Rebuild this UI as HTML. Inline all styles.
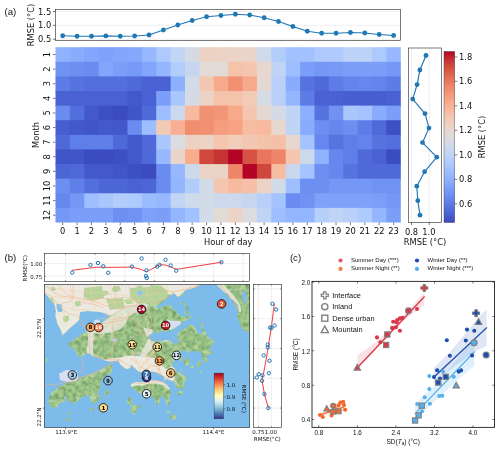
<!DOCTYPE html>
<html lang="en"><head><meta charset="utf-8"><title>Figure</title>
<style>
html,body{margin:0;padding:0;background:#fff;}
body{width:500px;height:451px;overflow:hidden;}
svg{display:block;}
</style></head><body>
<svg width="500" height="451" viewBox="0 0 500 451">
<rect width="500" height="451" fill="#fff"/>
<g id="panelA">
<text x="4.6" y="15.4" font-family="Liberation Sans, sans-serif" font-size="9.6" fill="#111">(a)</text>
<rect x="55.5" y="9.4" width="345.1" height="30.9" fill="#fff" stroke="none"/>
<line x1="55.5" x2="400.6" y1="11.5" y2="11.5" stroke="#dedede" stroke-width="0.5"/>
<line x1="52.9" x2="55.5" y1="11.5" y2="11.5" stroke="#222" stroke-width="0.6"/>
<line x1="55.5" x2="400.6" y1="25.3" y2="25.3" stroke="#dedede" stroke-width="0.5"/>
<line x1="52.9" x2="55.5" y1="25.3" y2="25.3" stroke="#222" stroke-width="0.6"/>
<line x1="55.5" x2="400.6" y1="39.2" y2="39.2" stroke="#dedede" stroke-width="0.5"/>
<line x1="52.9" x2="55.5" y1="39.2" y2="39.2" stroke="#222" stroke-width="0.6"/>
<text x="51.3" y="14.5" font-family="DejaVu Sans, Liberation Sans, sans-serif" font-size="8.3" text-anchor="end" fill="#111">1.5</text>
<text x="51.3" y="28.3" font-family="DejaVu Sans, Liberation Sans, sans-serif" font-size="8.3" text-anchor="end" fill="#111">1.0</text>
<text x="51.3" y="42.2" font-family="DejaVu Sans, Liberation Sans, sans-serif" font-size="8.3" text-anchor="end" fill="#111">0.5</text>
<text transform="translate(34.2,25) rotate(-90)" font-family="DejaVu Sans, Liberation Sans, sans-serif" font-size="8.3" text-anchor="middle" fill="#111">RMSE (°C)</text>
<polyline points="62.69,35.75 77.08,36.25 91.47,36.25 105.86,35.9 120.24,36.25 134.63,36.0 149.02,35.0 163.41,30.0 177.79,25.0 192.18,20.5 206.57,16.75 220.96,15.5 235.34,14.25 249.73,15.0 264.12,17.75 278.51,21.5 292.89,26.5 307.28,31.25 321.67,33.25 336.06,33.25 350.44,32.5 364.83,33.0 379.22,34.5 393.61,35.5" fill="none" stroke="#1f77b4" stroke-width="1.15" stroke-linejoin="round"/>
<circle cx="62.69" cy="35.75" r="2.4" fill="#1f77b4"/>
<circle cx="77.08" cy="36.25" r="2.4" fill="#1f77b4"/>
<circle cx="91.47" cy="36.25" r="2.4" fill="#1f77b4"/>
<circle cx="105.86" cy="35.9" r="2.4" fill="#1f77b4"/>
<circle cx="120.24" cy="36.25" r="2.4" fill="#1f77b4"/>
<circle cx="134.63" cy="36.0" r="2.4" fill="#1f77b4"/>
<circle cx="149.02" cy="35.0" r="2.4" fill="#1f77b4"/>
<circle cx="163.41" cy="30.0" r="2.4" fill="#1f77b4"/>
<circle cx="177.79" cy="25.0" r="2.4" fill="#1f77b4"/>
<circle cx="192.18" cy="20.5" r="2.4" fill="#1f77b4"/>
<circle cx="206.57" cy="16.75" r="2.4" fill="#1f77b4"/>
<circle cx="220.96" cy="15.5" r="2.4" fill="#1f77b4"/>
<circle cx="235.34" cy="14.25" r="2.4" fill="#1f77b4"/>
<circle cx="249.73" cy="15.0" r="2.4" fill="#1f77b4"/>
<circle cx="264.12" cy="17.75" r="2.4" fill="#1f77b4"/>
<circle cx="278.51" cy="21.5" r="2.4" fill="#1f77b4"/>
<circle cx="292.89" cy="26.5" r="2.4" fill="#1f77b4"/>
<circle cx="307.28" cy="31.25" r="2.4" fill="#1f77b4"/>
<circle cx="321.67" cy="33.25" r="2.4" fill="#1f77b4"/>
<circle cx="336.06" cy="33.25" r="2.4" fill="#1f77b4"/>
<circle cx="350.44" cy="32.5" r="2.4" fill="#1f77b4"/>
<circle cx="364.83" cy="33.0" r="2.4" fill="#1f77b4"/>
<circle cx="379.22" cy="34.5" r="2.4" fill="#1f77b4"/>
<circle cx="393.61" cy="35.5" r="2.4" fill="#1f77b4"/>
<rect x="55.5" y="9.4" width="345.1" height="30.9" fill="none" stroke="#222" stroke-width="0.6"/>
<rect x="55.50" y="47.20" width="15.39" height="15.61" fill="#90b2fe"/>
<rect x="69.89" y="47.20" width="15.39" height="15.61" fill="#89acfd"/>
<rect x="84.28" y="47.20" width="15.39" height="15.61" fill="#82a6fb"/>
<rect x="98.66" y="47.20" width="15.39" height="15.61" fill="#7ea1fa"/>
<rect x="113.05" y="47.20" width="15.39" height="15.61" fill="#82a6fb"/>
<rect x="127.44" y="47.20" width="15.39" height="15.61" fill="#85a8fc"/>
<rect x="141.82" y="47.20" width="15.39" height="15.61" fill="#97b8ff"/>
<rect x="156.21" y="47.20" width="15.39" height="15.61" fill="#adc9fd"/>
<rect x="170.60" y="47.20" width="15.39" height="15.61" fill="#c3d5f4"/>
<rect x="184.99" y="47.20" width="15.39" height="15.61" fill="#d5dbe5"/>
<rect x="199.38" y="47.20" width="15.39" height="15.61" fill="#edd2c3"/>
<rect x="213.76" y="47.20" width="15.39" height="15.61" fill="#ebd3c6"/>
<rect x="228.15" y="47.20" width="15.39" height="15.61" fill="#ebd3c6"/>
<rect x="242.54" y="47.20" width="15.39" height="15.61" fill="#e9d5cb"/>
<rect x="256.93" y="47.20" width="15.39" height="15.61" fill="#cfdaea"/>
<rect x="271.31" y="47.20" width="15.39" height="15.61" fill="#b3cdfb"/>
<rect x="285.70" y="47.20" width="15.39" height="15.61" fill="#a2c1ff"/>
<rect x="300.09" y="47.20" width="15.39" height="15.61" fill="#a2c1ff"/>
<rect x="314.48" y="47.20" width="15.39" height="15.61" fill="#adc9fd"/>
<rect x="328.86" y="47.20" width="15.39" height="15.61" fill="#afcafc"/>
<rect x="343.25" y="47.20" width="15.39" height="15.61" fill="#bcd2f7"/>
<rect x="357.64" y="47.20" width="15.39" height="15.61" fill="#bcd2f7"/>
<rect x="372.03" y="47.20" width="15.39" height="15.61" fill="#adc9fd"/>
<rect x="386.41" y="47.20" width="14.39" height="15.61" fill="#97b8ff"/>
<rect x="55.50" y="61.81" width="15.39" height="15.61" fill="#7093f3"/>
<rect x="69.89" y="61.81" width="15.39" height="15.61" fill="#6c8ff1"/>
<rect x="84.28" y="61.81" width="15.39" height="15.61" fill="#6a8bef"/>
<rect x="98.66" y="61.81" width="15.39" height="15.61" fill="#82a6fb"/>
<rect x="113.05" y="61.81" width="15.39" height="15.61" fill="#7b9ff9"/>
<rect x="127.44" y="61.81" width="15.39" height="15.61" fill="#779af7"/>
<rect x="141.82" y="61.81" width="15.39" height="15.61" fill="#82a6fb"/>
<rect x="156.21" y="61.81" width="15.39" height="15.61" fill="#94b6ff"/>
<rect x="170.60" y="61.81" width="15.39" height="15.61" fill="#b3cdfb"/>
<rect x="184.99" y="61.81" width="15.39" height="15.61" fill="#c6d6f1"/>
<rect x="199.38" y="61.81" width="15.39" height="15.61" fill="#e2dad5"/>
<rect x="213.76" y="61.81" width="15.39" height="15.61" fill="#e2dad5"/>
<rect x="228.15" y="61.81" width="15.39" height="15.61" fill="#f5c2aa"/>
<rect x="242.54" y="61.81" width="15.39" height="15.61" fill="#f4c6af"/>
<rect x="256.93" y="61.81" width="15.39" height="15.61" fill="#e7d7ce"/>
<rect x="271.31" y="61.81" width="15.39" height="15.61" fill="#c0d4f5"/>
<rect x="285.70" y="61.81" width="15.39" height="15.61" fill="#9ebeff"/>
<rect x="300.09" y="61.81" width="15.39" height="15.61" fill="#7b9ff9"/>
<rect x="314.48" y="61.81" width="15.39" height="15.61" fill="#7597f6"/>
<rect x="328.86" y="61.81" width="15.39" height="15.61" fill="#779af7"/>
<rect x="343.25" y="61.81" width="15.39" height="15.61" fill="#7b9ff9"/>
<rect x="357.64" y="61.81" width="15.39" height="15.61" fill="#7b9ff9"/>
<rect x="372.03" y="61.81" width="15.39" height="15.61" fill="#7b9ff9"/>
<rect x="386.41" y="61.81" width="14.39" height="15.61" fill="#7597f6"/>
<rect x="55.50" y="76.42" width="15.39" height="15.61" fill="#5d7ce6"/>
<rect x="69.89" y="76.42" width="15.39" height="15.61" fill="#5673e0"/>
<rect x="84.28" y="76.42" width="15.39" height="15.61" fill="#536edd"/>
<rect x="98.66" y="76.42" width="15.39" height="15.61" fill="#536edd"/>
<rect x="113.05" y="76.42" width="15.39" height="15.61" fill="#536edd"/>
<rect x="127.44" y="76.42" width="15.39" height="15.61" fill="#4f69d9"/>
<rect x="141.82" y="76.42" width="15.39" height="15.61" fill="#4961d2"/>
<rect x="156.21" y="76.42" width="15.39" height="15.61" fill="#4961d2"/>
<rect x="170.60" y="76.42" width="15.39" height="15.61" fill="#8db0fe"/>
<rect x="184.99" y="76.42" width="15.39" height="15.61" fill="#d2dbe8"/>
<rect x="199.38" y="76.42" width="15.39" height="15.61" fill="#f3c8b2"/>
<rect x="213.76" y="76.42" width="15.39" height="15.61" fill="#f7a98b"/>
<rect x="228.15" y="76.42" width="15.39" height="15.61" fill="#f29072"/>
<rect x="242.54" y="76.42" width="15.39" height="15.61" fill="#f7a98b"/>
<rect x="256.93" y="76.42" width="15.39" height="15.61" fill="#e4d9d2"/>
<rect x="271.31" y="76.42" width="15.39" height="15.61" fill="#bad0f8"/>
<rect x="285.70" y="76.42" width="15.39" height="15.61" fill="#89acfd"/>
<rect x="300.09" y="76.42" width="15.39" height="15.61" fill="#5673e0"/>
<rect x="314.48" y="76.42" width="15.39" height="15.61" fill="#4f69d9"/>
<rect x="328.86" y="76.42" width="15.39" height="15.61" fill="#5d7ce6"/>
<rect x="343.25" y="76.42" width="15.39" height="15.61" fill="#6384eb"/>
<rect x="357.64" y="76.42" width="15.39" height="15.61" fill="#6687ed"/>
<rect x="372.03" y="76.42" width="15.39" height="15.61" fill="#6384eb"/>
<rect x="386.41" y="76.42" width="14.39" height="15.61" fill="#5d7ce6"/>
<rect x="55.50" y="91.03" width="15.39" height="15.61" fill="#4961d2"/>
<rect x="69.89" y="91.03" width="15.39" height="15.61" fill="#4961d2"/>
<rect x="84.28" y="91.03" width="15.39" height="15.61" fill="#4961d2"/>
<rect x="98.66" y="91.03" width="15.39" height="15.61" fill="#4961d2"/>
<rect x="113.05" y="91.03" width="15.39" height="15.61" fill="#4961d2"/>
<rect x="127.44" y="91.03" width="15.39" height="15.61" fill="#4358cb"/>
<rect x="141.82" y="91.03" width="15.39" height="15.61" fill="#4961d2"/>
<rect x="156.21" y="91.03" width="15.39" height="15.61" fill="#7b9ff9"/>
<rect x="170.60" y="91.03" width="15.39" height="15.61" fill="#a9c6fd"/>
<rect x="184.99" y="91.03" width="15.39" height="15.61" fill="#d5dbe5"/>
<rect x="199.38" y="91.03" width="15.39" height="15.61" fill="#ebd3c6"/>
<rect x="213.76" y="91.03" width="15.39" height="15.61" fill="#f5c2aa"/>
<rect x="228.15" y="91.03" width="15.39" height="15.61" fill="#f5c2aa"/>
<rect x="242.54" y="91.03" width="15.39" height="15.61" fill="#f2cbb7"/>
<rect x="256.93" y="91.03" width="15.39" height="15.61" fill="#d5dbe5"/>
<rect x="271.31" y="91.03" width="15.39" height="15.61" fill="#bad0f8"/>
<rect x="285.70" y="91.03" width="15.39" height="15.61" fill="#94b6ff"/>
<rect x="300.09" y="91.03" width="15.39" height="15.61" fill="#5d7ce6"/>
<rect x="314.48" y="91.03" width="15.39" height="15.61" fill="#4961d2"/>
<rect x="328.86" y="91.03" width="15.39" height="15.61" fill="#4961d2"/>
<rect x="343.25" y="91.03" width="15.39" height="15.61" fill="#465ecf"/>
<rect x="357.64" y="91.03" width="15.39" height="15.61" fill="#465ecf"/>
<rect x="372.03" y="91.03" width="15.39" height="15.61" fill="#465ecf"/>
<rect x="386.41" y="91.03" width="14.39" height="15.61" fill="#4961d2"/>
<rect x="55.50" y="105.63" width="15.39" height="15.61" fill="#6a8bef"/>
<rect x="69.89" y="105.63" width="15.39" height="15.61" fill="#536edd"/>
<rect x="84.28" y="105.63" width="15.39" height="15.61" fill="#4358cb"/>
<rect x="98.66" y="105.63" width="15.39" height="15.61" fill="#3d50c3"/>
<rect x="113.05" y="105.63" width="15.39" height="15.61" fill="#3b4cc0"/>
<rect x="127.44" y="105.63" width="15.39" height="15.61" fill="#4055c8"/>
<rect x="141.82" y="105.63" width="15.39" height="15.61" fill="#4f69d9"/>
<rect x="156.21" y="105.63" width="15.39" height="15.61" fill="#9ebeff"/>
<rect x="170.60" y="105.63" width="15.39" height="15.61" fill="#ccd9ed"/>
<rect x="184.99" y="105.63" width="15.39" height="15.61" fill="#f7ba9f"/>
<rect x="199.38" y="105.63" width="15.39" height="15.61" fill="#f29072"/>
<rect x="213.76" y="105.63" width="15.39" height="15.61" fill="#f39577"/>
<rect x="228.15" y="105.63" width="15.39" height="15.61" fill="#f7a98b"/>
<rect x="242.54" y="105.63" width="15.39" height="15.61" fill="#f4c6af"/>
<rect x="256.93" y="105.63" width="15.39" height="15.61" fill="#e4d9d2"/>
<rect x="271.31" y="105.63" width="15.39" height="15.61" fill="#d5dbe5"/>
<rect x="285.70" y="105.63" width="15.39" height="15.61" fill="#c0d4f5"/>
<rect x="300.09" y="105.63" width="15.39" height="15.61" fill="#8db0fe"/>
<rect x="314.48" y="105.63" width="15.39" height="15.61" fill="#5673e0"/>
<rect x="328.86" y="105.63" width="15.39" height="15.61" fill="#7093f3"/>
<rect x="343.25" y="105.63" width="15.39" height="15.61" fill="#a9c6fd"/>
<rect x="357.64" y="105.63" width="15.39" height="15.61" fill="#a5c3fe"/>
<rect x="372.03" y="105.63" width="15.39" height="15.61" fill="#89acfd"/>
<rect x="386.41" y="105.63" width="14.39" height="15.61" fill="#7b9ff9"/>
<rect x="55.50" y="120.24" width="15.39" height="15.61" fill="#465ecf"/>
<rect x="69.89" y="120.24" width="15.39" height="15.61" fill="#4358cb"/>
<rect x="84.28" y="120.24" width="15.39" height="15.61" fill="#4055c8"/>
<rect x="98.66" y="120.24" width="15.39" height="15.61" fill="#4358cb"/>
<rect x="113.05" y="120.24" width="15.39" height="15.61" fill="#4358cb"/>
<rect x="127.44" y="120.24" width="15.39" height="15.61" fill="#6a8bef"/>
<rect x="141.82" y="120.24" width="15.39" height="15.61" fill="#9ebeff"/>
<rect x="156.21" y="120.24" width="15.39" height="15.61" fill="#f2cbb7"/>
<rect x="170.60" y="120.24" width="15.39" height="15.61" fill="#f7b093"/>
<rect x="184.99" y="120.24" width="15.39" height="15.61" fill="#f18d6f"/>
<rect x="199.38" y="120.24" width="15.39" height="15.61" fill="#f29072"/>
<rect x="213.76" y="120.24" width="15.39" height="15.61" fill="#f59d7e"/>
<rect x="228.15" y="120.24" width="15.39" height="15.61" fill="#f6a283"/>
<rect x="242.54" y="120.24" width="15.39" height="15.61" fill="#f6bda2"/>
<rect x="256.93" y="120.24" width="15.39" height="15.61" fill="#f7ba9f"/>
<rect x="271.31" y="120.24" width="15.39" height="15.61" fill="#e7d7ce"/>
<rect x="285.70" y="120.24" width="15.39" height="15.61" fill="#c0d4f5"/>
<rect x="300.09" y="120.24" width="15.39" height="15.61" fill="#89acfd"/>
<rect x="314.48" y="120.24" width="15.39" height="15.61" fill="#6c8ff1"/>
<rect x="328.86" y="120.24" width="15.39" height="15.61" fill="#6687ed"/>
<rect x="343.25" y="120.24" width="15.39" height="15.61" fill="#6c8ff1"/>
<rect x="357.64" y="120.24" width="15.39" height="15.61" fill="#5d7ce6"/>
<rect x="372.03" y="120.24" width="15.39" height="15.61" fill="#4f69d9"/>
<rect x="386.41" y="120.24" width="14.39" height="15.61" fill="#3d50c3"/>
<rect x="55.50" y="134.85" width="15.39" height="15.61" fill="#4f69d9"/>
<rect x="69.89" y="134.85" width="15.39" height="15.61" fill="#5f7fe8"/>
<rect x="84.28" y="134.85" width="15.39" height="15.61" fill="#5f7fe8"/>
<rect x="98.66" y="134.85" width="15.39" height="15.61" fill="#5f7fe8"/>
<rect x="113.05" y="134.85" width="15.39" height="15.61" fill="#4f69d9"/>
<rect x="127.44" y="134.85" width="15.39" height="15.61" fill="#4358cb"/>
<rect x="141.82" y="134.85" width="15.39" height="15.61" fill="#4f69d9"/>
<rect x="156.21" y="134.85" width="15.39" height="15.61" fill="#a9c6fd"/>
<rect x="170.60" y="134.85" width="15.39" height="15.61" fill="#dadce0"/>
<rect x="184.99" y="134.85" width="15.39" height="15.61" fill="#edd2c3"/>
<rect x="199.38" y="134.85" width="15.39" height="15.61" fill="#ebd3c6"/>
<rect x="213.76" y="134.85" width="15.39" height="15.61" fill="#f4c6af"/>
<rect x="228.15" y="134.85" width="15.39" height="15.61" fill="#f1cdba"/>
<rect x="242.54" y="134.85" width="15.39" height="15.61" fill="#f3c8b2"/>
<rect x="256.93" y="134.85" width="15.39" height="15.61" fill="#f5c2aa"/>
<rect x="271.31" y="134.85" width="15.39" height="15.61" fill="#f5c0a7"/>
<rect x="285.70" y="134.85" width="15.39" height="15.61" fill="#e7d7ce"/>
<rect x="300.09" y="134.85" width="15.39" height="15.61" fill="#a5c3fe"/>
<rect x="314.48" y="134.85" width="15.39" height="15.61" fill="#6687ed"/>
<rect x="328.86" y="134.85" width="15.39" height="15.61" fill="#5673e0"/>
<rect x="343.25" y="134.85" width="15.39" height="15.61" fill="#5f7fe8"/>
<rect x="357.64" y="134.85" width="15.39" height="15.61" fill="#6384eb"/>
<rect x="372.03" y="134.85" width="15.39" height="15.61" fill="#5673e0"/>
<rect x="386.41" y="134.85" width="14.39" height="15.61" fill="#536edd"/>
<rect x="55.50" y="149.46" width="15.39" height="15.61" fill="#4055c8"/>
<rect x="69.89" y="149.46" width="15.39" height="15.61" fill="#4055c8"/>
<rect x="84.28" y="149.46" width="15.39" height="15.61" fill="#3b4cc0"/>
<rect x="98.66" y="149.46" width="15.39" height="15.61" fill="#3b4cc0"/>
<rect x="113.05" y="149.46" width="15.39" height="15.61" fill="#3d50c3"/>
<rect x="127.44" y="149.46" width="15.39" height="15.61" fill="#4358cb"/>
<rect x="141.82" y="149.46" width="15.39" height="15.61" fill="#4f69d9"/>
<rect x="156.21" y="149.46" width="15.39" height="15.61" fill="#97b8ff"/>
<rect x="170.60" y="149.46" width="15.39" height="15.61" fill="#e9d5cb"/>
<rect x="184.99" y="149.46" width="15.39" height="15.61" fill="#f7ac8e"/>
<rect x="199.38" y="149.46" width="15.39" height="15.61" fill="#d0473d"/>
<rect x="213.76" y="149.46" width="15.39" height="15.61" fill="#c53334"/>
<rect x="228.15" y="149.46" width="15.39" height="15.61" fill="#b40426"/>
<rect x="242.54" y="149.46" width="15.39" height="15.61" fill="#d65244"/>
<rect x="256.93" y="149.46" width="15.39" height="15.61" fill="#e8765c"/>
<rect x="271.31" y="149.46" width="15.39" height="15.61" fill="#ee8468"/>
<rect x="285.70" y="149.46" width="15.39" height="15.61" fill="#f4c6af"/>
<rect x="300.09" y="149.46" width="15.39" height="15.61" fill="#ccd9ed"/>
<rect x="314.48" y="149.46" width="15.39" height="15.61" fill="#90b2fe"/>
<rect x="328.86" y="149.46" width="15.39" height="15.61" fill="#6687ed"/>
<rect x="343.25" y="149.46" width="15.39" height="15.61" fill="#5f7fe8"/>
<rect x="357.64" y="149.46" width="15.39" height="15.61" fill="#4f69d9"/>
<rect x="372.03" y="149.46" width="15.39" height="15.61" fill="#4961d2"/>
<rect x="386.41" y="149.46" width="14.39" height="15.61" fill="#3b4cc0"/>
<rect x="55.50" y="164.07" width="15.39" height="15.61" fill="#4c66d6"/>
<rect x="69.89" y="164.07" width="15.39" height="15.61" fill="#4f69d9"/>
<rect x="84.28" y="164.07" width="15.39" height="15.61" fill="#4358cb"/>
<rect x="98.66" y="164.07" width="15.39" height="15.61" fill="#4358cb"/>
<rect x="113.05" y="164.07" width="15.39" height="15.61" fill="#4055c8"/>
<rect x="127.44" y="164.07" width="15.39" height="15.61" fill="#3d50c3"/>
<rect x="141.82" y="164.07" width="15.39" height="15.61" fill="#3b4cc0"/>
<rect x="156.21" y="164.07" width="15.39" height="15.61" fill="#6a8bef"/>
<rect x="170.60" y="164.07" width="15.39" height="15.61" fill="#97b8ff"/>
<rect x="184.99" y="164.07" width="15.39" height="15.61" fill="#ccd9ed"/>
<rect x="199.38" y="164.07" width="15.39" height="15.61" fill="#ebd3c6"/>
<rect x="213.76" y="164.07" width="15.39" height="15.61" fill="#ebd3c6"/>
<rect x="228.15" y="164.07" width="15.39" height="15.61" fill="#ee8468"/>
<rect x="242.54" y="164.07" width="15.39" height="15.61" fill="#b40426"/>
<rect x="256.93" y="164.07" width="15.39" height="15.61" fill="#d0473d"/>
<rect x="271.31" y="164.07" width="15.39" height="15.61" fill="#f6bda2"/>
<rect x="285.70" y="164.07" width="15.39" height="15.61" fill="#cad8ef"/>
<rect x="300.09" y="164.07" width="15.39" height="15.61" fill="#a5c3fe"/>
<rect x="314.48" y="164.07" width="15.39" height="15.61" fill="#6c8ff1"/>
<rect x="328.86" y="164.07" width="15.39" height="15.61" fill="#6687ed"/>
<rect x="343.25" y="164.07" width="15.39" height="15.61" fill="#5673e0"/>
<rect x="357.64" y="164.07" width="15.39" height="15.61" fill="#4f69d9"/>
<rect x="372.03" y="164.07" width="15.39" height="15.61" fill="#4f69d9"/>
<rect x="386.41" y="164.07" width="14.39" height="15.61" fill="#4f69d9"/>
<rect x="55.50" y="178.68" width="15.39" height="15.61" fill="#6c8ff1"/>
<rect x="69.89" y="178.68" width="15.39" height="15.61" fill="#5f7fe8"/>
<rect x="84.28" y="178.68" width="15.39" height="15.61" fill="#536edd"/>
<rect x="98.66" y="178.68" width="15.39" height="15.61" fill="#4c66d6"/>
<rect x="113.05" y="178.68" width="15.39" height="15.61" fill="#4c66d6"/>
<rect x="127.44" y="178.68" width="15.39" height="15.61" fill="#4961d2"/>
<rect x="141.82" y="178.68" width="15.39" height="15.61" fill="#4c66d6"/>
<rect x="156.21" y="178.68" width="15.39" height="15.61" fill="#6a8bef"/>
<rect x="170.60" y="178.68" width="15.39" height="15.61" fill="#94b6ff"/>
<rect x="184.99" y="178.68" width="15.39" height="15.61" fill="#b3cdfb"/>
<rect x="199.38" y="178.68" width="15.39" height="15.61" fill="#d2dbe8"/>
<rect x="213.76" y="178.68" width="15.39" height="15.61" fill="#f4c6af"/>
<rect x="228.15" y="178.68" width="15.39" height="15.61" fill="#f7ba9f"/>
<rect x="242.54" y="178.68" width="15.39" height="15.61" fill="#f5c0a7"/>
<rect x="256.93" y="178.68" width="15.39" height="15.61" fill="#ebd3c6"/>
<rect x="271.31" y="178.68" width="15.39" height="15.61" fill="#d2dbe8"/>
<rect x="285.70" y="178.68" width="15.39" height="15.61" fill="#9ebeff"/>
<rect x="300.09" y="178.68" width="15.39" height="15.61" fill="#6c8ff1"/>
<rect x="314.48" y="178.68" width="15.39" height="15.61" fill="#6c8ff1"/>
<rect x="328.86" y="178.68" width="15.39" height="15.61" fill="#7597f6"/>
<rect x="343.25" y="178.68" width="15.39" height="15.61" fill="#7597f6"/>
<rect x="357.64" y="178.68" width="15.39" height="15.61" fill="#7597f6"/>
<rect x="372.03" y="178.68" width="15.39" height="15.61" fill="#7093f3"/>
<rect x="386.41" y="178.68" width="14.39" height="15.61" fill="#7093f3"/>
<rect x="55.50" y="193.28" width="15.39" height="15.61" fill="#6687ed"/>
<rect x="69.89" y="193.28" width="15.39" height="15.61" fill="#7597f6"/>
<rect x="84.28" y="193.28" width="15.39" height="15.61" fill="#9ebeff"/>
<rect x="98.66" y="193.28" width="15.39" height="15.61" fill="#a9c6fd"/>
<rect x="113.05" y="193.28" width="15.39" height="15.61" fill="#b3cdfb"/>
<rect x="127.44" y="193.28" width="15.39" height="15.61" fill="#afcafc"/>
<rect x="141.82" y="193.28" width="15.39" height="15.61" fill="#9bbcff"/>
<rect x="156.21" y="193.28" width="15.39" height="15.61" fill="#97b8ff"/>
<rect x="170.60" y="193.28" width="15.39" height="15.61" fill="#c3d5f4"/>
<rect x="184.99" y="193.28" width="15.39" height="15.61" fill="#cfdaea"/>
<rect x="199.38" y="193.28" width="15.39" height="15.61" fill="#d2dbe8"/>
<rect x="213.76" y="193.28" width="15.39" height="15.61" fill="#ccd9ed"/>
<rect x="228.15" y="193.28" width="15.39" height="15.61" fill="#ccd9ed"/>
<rect x="242.54" y="193.28" width="15.39" height="15.61" fill="#c6d6f1"/>
<rect x="256.93" y="193.28" width="15.39" height="15.61" fill="#bad0f8"/>
<rect x="271.31" y="193.28" width="15.39" height="15.61" fill="#a5c3fe"/>
<rect x="285.70" y="193.28" width="15.39" height="15.61" fill="#6a8bef"/>
<rect x="300.09" y="193.28" width="15.39" height="15.61" fill="#7093f3"/>
<rect x="314.48" y="193.28" width="15.39" height="15.61" fill="#7ea1fa"/>
<rect x="328.86" y="193.28" width="15.39" height="15.61" fill="#7ea1fa"/>
<rect x="343.25" y="193.28" width="15.39" height="15.61" fill="#7ea1fa"/>
<rect x="357.64" y="193.28" width="15.39" height="15.61" fill="#7ea1fa"/>
<rect x="372.03" y="193.28" width="15.39" height="15.61" fill="#7b9ff9"/>
<rect x="386.41" y="193.28" width="14.39" height="15.61" fill="#7597f6"/>
<rect x="55.50" y="207.89" width="15.39" height="14.61" fill="#7597f6"/>
<rect x="69.89" y="207.89" width="15.39" height="14.61" fill="#7b9ff9"/>
<rect x="84.28" y="207.89" width="15.39" height="14.61" fill="#7b9ff9"/>
<rect x="98.66" y="207.89" width="15.39" height="14.61" fill="#7b9ff9"/>
<rect x="113.05" y="207.89" width="15.39" height="14.61" fill="#6c8ff1"/>
<rect x="127.44" y="207.89" width="15.39" height="14.61" fill="#7093f3"/>
<rect x="141.82" y="207.89" width="15.39" height="14.61" fill="#7ea1fa"/>
<rect x="156.21" y="207.89" width="15.39" height="14.61" fill="#7b9ff9"/>
<rect x="170.60" y="207.89" width="15.39" height="14.61" fill="#94b6ff"/>
<rect x="184.99" y="207.89" width="15.39" height="14.61" fill="#a2c1ff"/>
<rect x="199.38" y="207.89" width="15.39" height="14.61" fill="#d2dbe8"/>
<rect x="213.76" y="207.89" width="15.39" height="14.61" fill="#e2dad5"/>
<rect x="228.15" y="207.89" width="15.39" height="14.61" fill="#ebd3c6"/>
<rect x="242.54" y="207.89" width="15.39" height="14.61" fill="#dadce0"/>
<rect x="256.93" y="207.89" width="15.39" height="14.61" fill="#c0d4f5"/>
<rect x="271.31" y="207.89" width="15.39" height="14.61" fill="#9ebeff"/>
<rect x="285.70" y="207.89" width="15.39" height="14.61" fill="#94b6ff"/>
<rect x="300.09" y="207.89" width="15.39" height="14.61" fill="#94b6ff"/>
<rect x="314.48" y="207.89" width="15.39" height="14.61" fill="#b6cefa"/>
<rect x="328.86" y="207.89" width="15.39" height="14.61" fill="#c0d4f5"/>
<rect x="343.25" y="207.89" width="15.39" height="14.61" fill="#bad0f8"/>
<rect x="357.64" y="207.89" width="15.39" height="14.61" fill="#afcafc"/>
<rect x="372.03" y="207.89" width="15.39" height="14.61" fill="#94b6ff"/>
<rect x="386.41" y="207.89" width="14.39" height="14.61" fill="#7b9ff9"/>
<line x1="62.69" x2="62.69" y1="222.5" y2="225.1" stroke="#222" stroke-width="0.6"/>
<text x="62.69" y="234.4" font-family="DejaVu Sans, Liberation Sans, sans-serif" font-size="8.3" text-anchor="middle" fill="#111">0</text>
<line x1="77.08" x2="77.08" y1="222.5" y2="225.1" stroke="#222" stroke-width="0.6"/>
<text x="77.08" y="234.4" font-family="DejaVu Sans, Liberation Sans, sans-serif" font-size="8.3" text-anchor="middle" fill="#111">1</text>
<line x1="91.47" x2="91.47" y1="222.5" y2="225.1" stroke="#222" stroke-width="0.6"/>
<text x="91.47" y="234.4" font-family="DejaVu Sans, Liberation Sans, sans-serif" font-size="8.3" text-anchor="middle" fill="#111">2</text>
<line x1="105.86" x2="105.86" y1="222.5" y2="225.1" stroke="#222" stroke-width="0.6"/>
<text x="105.86" y="234.4" font-family="DejaVu Sans, Liberation Sans, sans-serif" font-size="8.3" text-anchor="middle" fill="#111">3</text>
<line x1="120.24" x2="120.24" y1="222.5" y2="225.1" stroke="#222" stroke-width="0.6"/>
<text x="120.24" y="234.4" font-family="DejaVu Sans, Liberation Sans, sans-serif" font-size="8.3" text-anchor="middle" fill="#111">4</text>
<line x1="134.63" x2="134.63" y1="222.5" y2="225.1" stroke="#222" stroke-width="0.6"/>
<text x="134.63" y="234.4" font-family="DejaVu Sans, Liberation Sans, sans-serif" font-size="8.3" text-anchor="middle" fill="#111">5</text>
<line x1="149.02" x2="149.02" y1="222.5" y2="225.1" stroke="#222" stroke-width="0.6"/>
<text x="149.02" y="234.4" font-family="DejaVu Sans, Liberation Sans, sans-serif" font-size="8.3" text-anchor="middle" fill="#111">6</text>
<line x1="163.41" x2="163.41" y1="222.5" y2="225.1" stroke="#222" stroke-width="0.6"/>
<text x="163.41" y="234.4" font-family="DejaVu Sans, Liberation Sans, sans-serif" font-size="8.3" text-anchor="middle" fill="#111">7</text>
<line x1="177.79" x2="177.79" y1="222.5" y2="225.1" stroke="#222" stroke-width="0.6"/>
<text x="177.79" y="234.4" font-family="DejaVu Sans, Liberation Sans, sans-serif" font-size="8.3" text-anchor="middle" fill="#111">8</text>
<line x1="192.18" x2="192.18" y1="222.5" y2="225.1" stroke="#222" stroke-width="0.6"/>
<text x="192.18" y="234.4" font-family="DejaVu Sans, Liberation Sans, sans-serif" font-size="8.3" text-anchor="middle" fill="#111">9</text>
<line x1="206.57" x2="206.57" y1="222.5" y2="225.1" stroke="#222" stroke-width="0.6"/>
<text x="206.57" y="234.4" font-family="DejaVu Sans, Liberation Sans, sans-serif" font-size="8.3" text-anchor="middle" fill="#111">10</text>
<line x1="220.96" x2="220.96" y1="222.5" y2="225.1" stroke="#222" stroke-width="0.6"/>
<text x="220.96" y="234.4" font-family="DejaVu Sans, Liberation Sans, sans-serif" font-size="8.3" text-anchor="middle" fill="#111">11</text>
<line x1="235.34" x2="235.34" y1="222.5" y2="225.1" stroke="#222" stroke-width="0.6"/>
<text x="235.34" y="234.4" font-family="DejaVu Sans, Liberation Sans, sans-serif" font-size="8.3" text-anchor="middle" fill="#111">12</text>
<line x1="249.73" x2="249.73" y1="222.5" y2="225.1" stroke="#222" stroke-width="0.6"/>
<text x="249.73" y="234.4" font-family="DejaVu Sans, Liberation Sans, sans-serif" font-size="8.3" text-anchor="middle" fill="#111">13</text>
<line x1="264.12" x2="264.12" y1="222.5" y2="225.1" stroke="#222" stroke-width="0.6"/>
<text x="264.12" y="234.4" font-family="DejaVu Sans, Liberation Sans, sans-serif" font-size="8.3" text-anchor="middle" fill="#111">14</text>
<line x1="278.51" x2="278.51" y1="222.5" y2="225.1" stroke="#222" stroke-width="0.6"/>
<text x="278.51" y="234.4" font-family="DejaVu Sans, Liberation Sans, sans-serif" font-size="8.3" text-anchor="middle" fill="#111">15</text>
<line x1="292.89" x2="292.89" y1="222.5" y2="225.1" stroke="#222" stroke-width="0.6"/>
<text x="292.89" y="234.4" font-family="DejaVu Sans, Liberation Sans, sans-serif" font-size="8.3" text-anchor="middle" fill="#111">16</text>
<line x1="307.28" x2="307.28" y1="222.5" y2="225.1" stroke="#222" stroke-width="0.6"/>
<text x="307.28" y="234.4" font-family="DejaVu Sans, Liberation Sans, sans-serif" font-size="8.3" text-anchor="middle" fill="#111">17</text>
<line x1="321.67" x2="321.67" y1="222.5" y2="225.1" stroke="#222" stroke-width="0.6"/>
<text x="321.67" y="234.4" font-family="DejaVu Sans, Liberation Sans, sans-serif" font-size="8.3" text-anchor="middle" fill="#111">18</text>
<line x1="336.06" x2="336.06" y1="222.5" y2="225.1" stroke="#222" stroke-width="0.6"/>
<text x="336.06" y="234.4" font-family="DejaVu Sans, Liberation Sans, sans-serif" font-size="8.3" text-anchor="middle" fill="#111">19</text>
<line x1="350.44" x2="350.44" y1="222.5" y2="225.1" stroke="#222" stroke-width="0.6"/>
<text x="350.44" y="234.4" font-family="DejaVu Sans, Liberation Sans, sans-serif" font-size="8.3" text-anchor="middle" fill="#111">20</text>
<line x1="364.83" x2="364.83" y1="222.5" y2="225.1" stroke="#222" stroke-width="0.6"/>
<text x="364.83" y="234.4" font-family="DejaVu Sans, Liberation Sans, sans-serif" font-size="8.3" text-anchor="middle" fill="#111">21</text>
<line x1="379.22" x2="379.22" y1="222.5" y2="225.1" stroke="#222" stroke-width="0.6"/>
<text x="379.22" y="234.4" font-family="DejaVu Sans, Liberation Sans, sans-serif" font-size="8.3" text-anchor="middle" fill="#111">22</text>
<line x1="393.61" x2="393.61" y1="222.5" y2="225.1" stroke="#222" stroke-width="0.6"/>
<text x="393.61" y="234.4" font-family="DejaVu Sans, Liberation Sans, sans-serif" font-size="8.3" text-anchor="middle" fill="#111">23</text>
<line x1="52.9" x2="55.5" y1="54.50" y2="54.50" stroke="#222" stroke-width="0.6"/>
<text transform="translate(49.6,54.50) rotate(-90)" font-family="DejaVu Sans, Liberation Sans, sans-serif" font-size="8.3" text-anchor="middle" fill="#111">1</text>
<line x1="52.9" x2="55.5" y1="69.11" y2="69.11" stroke="#222" stroke-width="0.6"/>
<text transform="translate(49.6,69.11) rotate(-90)" font-family="DejaVu Sans, Liberation Sans, sans-serif" font-size="8.3" text-anchor="middle" fill="#111">2</text>
<line x1="52.9" x2="55.5" y1="83.72" y2="83.72" stroke="#222" stroke-width="0.6"/>
<text transform="translate(49.6,83.72) rotate(-90)" font-family="DejaVu Sans, Liberation Sans, sans-serif" font-size="8.3" text-anchor="middle" fill="#111">3</text>
<line x1="52.9" x2="55.5" y1="98.33" y2="98.33" stroke="#222" stroke-width="0.6"/>
<text transform="translate(49.6,98.33) rotate(-90)" font-family="DejaVu Sans, Liberation Sans, sans-serif" font-size="8.3" text-anchor="middle" fill="#111">4</text>
<line x1="52.9" x2="55.5" y1="112.94" y2="112.94" stroke="#222" stroke-width="0.6"/>
<text transform="translate(49.6,112.94) rotate(-90)" font-family="DejaVu Sans, Liberation Sans, sans-serif" font-size="8.3" text-anchor="middle" fill="#111">5</text>
<line x1="52.9" x2="55.5" y1="127.55" y2="127.55" stroke="#222" stroke-width="0.6"/>
<text transform="translate(49.6,127.55) rotate(-90)" font-family="DejaVu Sans, Liberation Sans, sans-serif" font-size="8.3" text-anchor="middle" fill="#111">6</text>
<line x1="52.9" x2="55.5" y1="142.15" y2="142.15" stroke="#222" stroke-width="0.6"/>
<text transform="translate(49.6,142.15) rotate(-90)" font-family="DejaVu Sans, Liberation Sans, sans-serif" font-size="8.3" text-anchor="middle" fill="#111">7</text>
<line x1="52.9" x2="55.5" y1="156.76" y2="156.76" stroke="#222" stroke-width="0.6"/>
<text transform="translate(49.6,156.76) rotate(-90)" font-family="DejaVu Sans, Liberation Sans, sans-serif" font-size="8.3" text-anchor="middle" fill="#111">8</text>
<line x1="52.9" x2="55.5" y1="171.37" y2="171.37" stroke="#222" stroke-width="0.6"/>
<text transform="translate(49.6,171.37) rotate(-90)" font-family="DejaVu Sans, Liberation Sans, sans-serif" font-size="8.3" text-anchor="middle" fill="#111">9</text>
<line x1="52.9" x2="55.5" y1="185.98" y2="185.98" stroke="#222" stroke-width="0.6"/>
<text transform="translate(49.6,185.98) rotate(-90)" font-family="DejaVu Sans, Liberation Sans, sans-serif" font-size="8.3" text-anchor="middle" fill="#111">10</text>
<line x1="52.9" x2="55.5" y1="200.59" y2="200.59" stroke="#222" stroke-width="0.6"/>
<text transform="translate(49.6,200.59) rotate(-90)" font-family="DejaVu Sans, Liberation Sans, sans-serif" font-size="8.3" text-anchor="middle" fill="#111">11</text>
<line x1="52.9" x2="55.5" y1="215.20" y2="215.20" stroke="#222" stroke-width="0.6"/>
<text transform="translate(49.6,215.20) rotate(-90)" font-family="DejaVu Sans, Liberation Sans, sans-serif" font-size="8.3" text-anchor="middle" fill="#111">12</text>
<text transform="translate(39.4,135) rotate(-90)" font-family="DejaVu Sans, Liberation Sans, sans-serif" font-size="8.3" text-anchor="middle" fill="#111">Month</text>
<text x="228.2" y="244.5" font-family="DejaVu Sans, Liberation Sans, sans-serif" font-size="8.3" text-anchor="middle" fill="#111">Hour of day</text>
<rect x="408.3" y="48.0" width="33.39999999999998" height="174.3" fill="#fff"/>
<line x1="411.5" x2="411.5" y1="48.0" y2="222.3" stroke="#dcdcdc" stroke-width="0.5"/>
<line x1="411.5" x2="411.5" y1="222.3" y2="224.9" stroke="#222" stroke-width="0.6"/>
<line x1="429.25" x2="429.25" y1="48.0" y2="222.3" stroke="#dcdcdc" stroke-width="0.5"/>
<line x1="429.25" x2="429.25" y1="222.3" y2="224.9" stroke="#222" stroke-width="0.6"/>
<polyline points="426,55.50 419.9,70.02 417.1,84.54 412.7,99.06 425,113.58 429,128.10 422.5,142.62 436.8,157.14 424.6,171.66 416.8,186.18 417.8,200.70 420,215.22" fill="none" stroke="#1f77b4" stroke-width="1.15" stroke-linejoin="round"/>
<circle cx="426" cy="55.50" r="2.4" fill="#1f77b4"/>
<circle cx="419.9" cy="70.02" r="2.4" fill="#1f77b4"/>
<circle cx="417.1" cy="84.54" r="2.4" fill="#1f77b4"/>
<circle cx="412.7" cy="99.06" r="2.4" fill="#1f77b4"/>
<circle cx="425" cy="113.58" r="2.4" fill="#1f77b4"/>
<circle cx="429" cy="128.10" r="2.4" fill="#1f77b4"/>
<circle cx="422.5" cy="142.62" r="2.4" fill="#1f77b4"/>
<circle cx="436.8" cy="157.14" r="2.4" fill="#1f77b4"/>
<circle cx="424.6" cy="171.66" r="2.4" fill="#1f77b4"/>
<circle cx="416.8" cy="186.18" r="2.4" fill="#1f77b4"/>
<circle cx="417.8" cy="200.70" r="2.4" fill="#1f77b4"/>
<circle cx="420" cy="215.22" r="2.4" fill="#1f77b4"/>
<rect x="408.3" y="48.0" width="33.39999999999998" height="174.3" fill="none" stroke="#222" stroke-width="0.6"/>
<text x="411.5" y="234.7" font-family="DejaVu Sans, Liberation Sans, sans-serif" font-size="8.3" text-anchor="middle" fill="#111">0.8</text>
<text x="428.9" y="234.7" font-family="DejaVu Sans, Liberation Sans, sans-serif" font-size="8.3" text-anchor="middle" fill="#111">1.0</text>
<text x="425" y="244.5" font-family="DejaVu Sans, Liberation Sans, sans-serif" font-size="8.3" text-anchor="middle" fill="#111">RMSE (°C)</text>
<defs><linearGradient id="gcw" x1="0" y1="0" x2="0" y2="1"><stop offset="0.00" stop-color="#b40426"/><stop offset="0.05" stop-color="#c53334"/><stop offset="0.10" stop-color="#d65244"/><stop offset="0.15" stop-color="#e36c55"/><stop offset="0.20" stop-color="#ee8468"/><stop offset="0.25" stop-color="#f4987a"/><stop offset="0.30" stop-color="#f7ac8e"/><stop offset="0.35" stop-color="#f6bda2"/><stop offset="0.40" stop-color="#f2cbb7"/><stop offset="0.45" stop-color="#e9d5cb"/><stop offset="0.50" stop-color="#dddcdc"/><stop offset="0.55" stop-color="#cfdaea"/><stop offset="0.60" stop-color="#c0d4f5"/><stop offset="0.65" stop-color="#afcafc"/><stop offset="0.70" stop-color="#9ebeff"/><stop offset="0.75" stop-color="#8db0fe"/><stop offset="0.80" stop-color="#7b9ff9"/><stop offset="0.85" stop-color="#6a8bef"/><stop offset="0.90" stop-color="#5977e3"/><stop offset="0.95" stop-color="#4961d2"/><stop offset="1.00" stop-color="#3b4cc0"/></linearGradient></defs>
<rect x="444.0" y="51.5" width="10.699999999999989" height="171.0" fill="url(#gcw)" stroke="#333" stroke-width="0.4"/>
<line x1="454.7" x2="457.3" y1="57" y2="57" stroke="#222" stroke-width="0.6"/>
<text x="459" y="60.1" font-family="DejaVu Sans, Liberation Sans, sans-serif" font-size="8.3" fill="#111">1.8</text>
<line x1="454.7" x2="457.3" y1="81.3" y2="81.3" stroke="#222" stroke-width="0.6"/>
<text x="459" y="84.39999999999999" font-family="DejaVu Sans, Liberation Sans, sans-serif" font-size="8.3" fill="#111">1.6</text>
<line x1="454.7" x2="457.3" y1="105.8" y2="105.8" stroke="#222" stroke-width="0.6"/>
<text x="459" y="108.89999999999999" font-family="DejaVu Sans, Liberation Sans, sans-serif" font-size="8.3" fill="#111">1.4</text>
<line x1="454.7" x2="457.3" y1="130.3" y2="130.3" stroke="#222" stroke-width="0.6"/>
<text x="459" y="133.4" font-family="DejaVu Sans, Liberation Sans, sans-serif" font-size="8.3" fill="#111">1.2</text>
<line x1="454.7" x2="457.3" y1="154.9" y2="154.9" stroke="#222" stroke-width="0.6"/>
<text x="459" y="158.0" font-family="DejaVu Sans, Liberation Sans, sans-serif" font-size="8.3" fill="#111">1.0</text>
<line x1="454.7" x2="457.3" y1="179.3" y2="179.3" stroke="#222" stroke-width="0.6"/>
<text x="459" y="182.4" font-family="DejaVu Sans, Liberation Sans, sans-serif" font-size="8.3" fill="#111">0.8</text>
<line x1="454.7" x2="457.3" y1="203.8" y2="203.8" stroke="#222" stroke-width="0.6"/>
<text x="459" y="206.9" font-family="DejaVu Sans, Liberation Sans, sans-serif" font-size="8.3" fill="#111">0.6</text>
<text transform="translate(485.3,137) rotate(-90)" font-family="DejaVu Sans, Liberation Sans, sans-serif" font-size="8.3" text-anchor="middle" fill="#111">RMSE (°C)</text>
</g>
<g id="panelB">
<text x="4.6" y="261.4" font-family="Liberation Sans, sans-serif" font-size="9.6" fill="#111">(b)</text>
<defs><clipPath id="mapclip"><rect x="44.4" y="284.3" width="205.29999999999998" height="143.09999999999997"/></clipPath><filter id="mblur" x="-5%" y="-5%" width="110%" height="110%"><feGaussianBlur stdDeviation="0.55"/></filter><filter id="relief" x="0" y="0" width="100%" height="100%" color-interpolation-filters="sRGB"><feTurbulence type="fractalNoise" baseFrequency="0.22" numOctaves="2" seed="7" result="n"/><feColorMatrix in="n" type="matrix" values="0 0 0 0 0.44  0 0 0 0 0.62  0 0 0 0 0.40  1.5 1.5 0 0 -1.2" result="sh"/><feComposite in="sh" in2="SourceAlpha" operator="in" result="shc"/><feColorMatrix in="n" type="matrix" values="0 0 0 0 0.90  0 0 0 0 0.93  0 0 0 0 0.78  0 -1.6 -1.2 0 0.95" result="hl"/><feComposite in="hl" in2="SourceAlpha" operator="in" result="hlc"/><feMerge><feMergeNode in="SourceGraphic"/><feMergeNode in="shc"/><feMergeNode in="hlc"/></feMerge></filter></defs>
<g clip-path="url(#mapclip)">
<rect x="42.4" y="282.3" width="209.29999999999998" height="147.09999999999997" fill="#7dbbea"/>
<g filter="url(#mblur)">
<defs><clipPath id="mainclip"><polygon points="42.0,282.0 202.4,281.0 202.0,284.4 194.0,288.0 185.0,290.0 183.0,295.0 178.0,297.0 174.0,293.0 166.0,299.0 160.0,304.0 156.0,307.0 159.0,309.0 165.0,305.6 170.0,305.0 174.0,310.0 178.0,314.0 184.0,317.6 193.0,315.6 188.0,319.4 182.0,322.4 180.0,325.0 174.0,329.0 169.0,331.6 162.0,331.0 157.0,333.0 154.0,332.0 150.0,334.4 148.5,336.0 150.0,340.0 156.0,342.0 162.0,341.6 165.0,340.0 170.0,340.6 174.0,344.0 180.0,342.0 177.0,338.0 178.0,333.0 182.0,330.0 187.0,327.0 190.0,324.0 195.0,327.0 197.0,332.0 200.0,336.0 203.0,330.0 206.0,332.0 207.0,337.0 212.0,339.0 214.0,342.0 210.0,348.0 208.0,354.0 206.0,357.5 202.2,356.0 200.0,351.5 197.0,350.0 194.0,351.5 191.0,350.0 188.7,353.0 183.5,350.0 180.5,351.5 178.2,354.5 180.8,352.8 182.8,360.6 180.8,361.2 179.0,357.8 173.0,361.4 171.8,366.0 175.4,369.6 175.5,371.5 178.5,372.0 183.0,375.0 186.5,377.0 187.0,380.5 184.0,382.0 184.5,386.0 182.5,389.5 180.0,387.0 178.5,389.0 176.5,388.5 175.0,383.5 173.5,381.5 169.0,380.0 165.5,378.2 165.2,381.0 164.3,379.5 164.5,377.0 160.0,374.0 155.0,372.0 151.0,371.5 149.0,375.0 142.0,372.6 138.0,371.0 134.0,367.4 131.0,364.6 130.4,368.0 126.0,369.0 121.0,365.0 118.0,360.4 110.0,361.6 103.0,360.0 100.0,358.0 94.0,357.0 90.0,354.0 87.0,353.0 83.0,356.0 79.0,357.0 76.0,353.0 74.0,348.0 69.0,347.0 68.4,343.0 72.0,341.0 80.0,335.6 86.0,332.0 90.0,330.0 95.0,329.6 100.0,325.0 103.0,322.0 110.0,317.0 107.0,314.0 100.0,312.0 88.0,311.0 80.0,312.0 79.0,320.0 75.0,324.0 70.0,328.0 66.0,332.0 62.0,335.6 62.0,333.4 60.6,329.6 57.2,323.6 55.4,315.2 56.0,311.6 54.8,305.6 51.2,300.8 47.6,296.0 42.8,291.2"/></clipPath></defs>
<g filter="url(#relief)">
<polygon points="42.0,282.0 202.4,281.0 202.0,284.4 194.0,288.0 185.0,290.0 183.0,295.0 178.0,297.0 174.0,293.0 166.0,299.0 160.0,304.0 156.0,307.0 159.0,309.0 165.0,305.6 170.0,305.0 174.0,310.0 178.0,314.0 184.0,317.6 193.0,315.6 188.0,319.4 182.0,322.4 180.0,325.0 174.0,329.0 169.0,331.6 162.0,331.0 157.0,333.0 154.0,332.0 150.0,334.4 148.5,336.0 150.0,340.0 156.0,342.0 162.0,341.6 165.0,340.0 170.0,340.6 174.0,344.0 180.0,342.0 177.0,338.0 178.0,333.0 182.0,330.0 187.0,327.0 190.0,324.0 195.0,327.0 197.0,332.0 200.0,336.0 203.0,330.0 206.0,332.0 207.0,337.0 212.0,339.0 214.0,342.0 210.0,348.0 208.0,354.0 206.0,357.5 202.2,356.0 200.0,351.5 197.0,350.0 194.0,351.5 191.0,350.0 188.7,353.0 183.5,350.0 180.5,351.5 178.2,354.5 180.8,352.8 182.8,360.6 180.8,361.2 179.0,357.8 173.0,361.4 171.8,366.0 175.4,369.6 175.5,371.5 178.5,372.0 183.0,375.0 186.5,377.0 187.0,380.5 184.0,382.0 184.5,386.0 182.5,389.5 180.0,387.0 178.5,389.0 176.5,388.5 175.0,383.5 173.5,381.5 169.0,380.0 165.5,378.2 165.2,381.0 164.3,379.5 164.5,377.0 160.0,374.0 155.0,372.0 151.0,371.5 149.0,375.0 142.0,372.6 138.0,371.0 134.0,367.4 131.0,364.6 130.4,368.0 126.0,369.0 121.0,365.0 118.0,360.4 110.0,361.6 103.0,360.0 100.0,358.0 94.0,357.0 90.0,354.0 87.0,353.0 83.0,356.0 79.0,357.0 76.0,353.0 74.0,348.0 69.0,347.0 68.4,343.0 72.0,341.0 80.0,335.6 86.0,332.0 90.0,330.0 95.0,329.6 100.0,325.0 103.0,322.0 110.0,317.0 107.0,314.0 100.0,312.0 88.0,311.0 80.0,312.0 79.0,320.0 75.0,324.0 70.0,328.0 66.0,332.0 62.0,335.6 62.0,333.4 60.6,329.6 57.2,323.6 55.4,315.2 56.0,311.6 54.8,305.6 51.2,300.8 47.6,296.0 42.8,291.2" fill="#b4d49c" />
<polygon points="216.0,281.0 216.0,284.4 220.0,288.0 224.0,292.0 228.0,294.0 230.0,298.0 234.0,301.0 238.0,305.0 239.0,310.0 237.0,316.0 239.0,321.0 241.0,326.0 244.0,331.0 251.0,332.4 252.0,282.0" fill="#b4d49c" />
<polygon points="49.0,398.0 51.0,393.0 55.0,390.0 59.0,386.0 64.0,385.0 68.0,382.0 76.0,381.0 80.0,378.0 86.0,376.0 92.0,374.0 100.0,370.6 106.0,367.0 110.0,364.6 112.4,366.0 111.6,372.0 109.0,375.0 104.0,375.0 101.0,378.0 100.0,383.0 101.0,387.0 98.0,392.0 99.4,397.0 97.0,402.0 93.6,403.6 90.0,400.0 89.6,395.0 85.0,396.0 80.0,398.6 76.0,403.0 70.0,402.0 66.0,400.0 61.0,403.0 56.0,407.4 52.0,408.0 49.0,404.0" fill="#b4d49c" />
<polygon points="131.0,384.0 136.0,382.0 142.0,382.6 150.0,380.6 156.0,380.6 163.0,382.0 167.0,385.0 170.0,389.0 171.0,394.0 169.0,398.0 170.0,404.0 167.0,405.0 165.0,400.0 163.0,396.0 160.0,397.0 159.6,402.0 157.0,405.0 155.0,402.0 156.0,398.0 153.0,398.0 150.0,395.0 146.0,397.0 142.0,395.0 138.0,392.0 134.0,389.0 131.0,387.0" fill="#b4d49c" />
<polygon points="128.8,396.4 131.2,398.8 131.8,403.6 136.0,406.0 142.0,404.8 137.2,409.0 135.4,414.4 130.0,412.0 131.8,406.6 128.8,403.6 126.4,401.8" fill="#b4d49c" />
<ellipse cx="107.0" cy="392.4" rx="3.0" ry="2.0" fill="#b4d49c" transform="rotate(-30 107.0 392.4)"/>
<ellipse cx="91.6" cy="409.4" rx="1.7" ry="1.5" fill="#b4d49c" transform="rotate(0 91.6 409.4)"/>
<ellipse cx="69.2" cy="413.4" rx="1.8" ry="1.0" fill="#b4d49c" transform="rotate(-20 69.2 413.4)"/>
<ellipse cx="68.0" cy="419.4" rx="2.0" ry="1.2" fill="#b4d49c" transform="rotate(-30 68.0 419.4)"/>
<ellipse cx="102.0" cy="398.0" rx="1.0" ry="1.0" fill="#b4d49c" transform="rotate(0 102.0 398.0)"/>
<ellipse cx="47.0" cy="360.0" rx="0.9" ry="1.3" fill="#b4d49c" transform="rotate(0 47.0 360.0)"/>
<ellipse cx="180.4" cy="393.0" rx="2.6" ry="2.0" fill="#b4d49c" transform="rotate(-20 180.4 393.0)"/>
<ellipse cx="173.0" cy="417.0" rx="3.0" ry="2.8" fill="#b4d49c" transform="rotate(0 173.0 417.0)"/>
<ellipse cx="168.4" cy="412.2" rx="1.6" ry="1.1" fill="#b4d49c" transform="rotate(0 168.4 412.2)"/>
<ellipse cx="180.0" cy="413.0" rx="0.8" ry="0.8" fill="#b4d49c" transform="rotate(0 180.0 413.0)"/>
<ellipse cx="181.0" cy="370.0" rx="1.0" ry="1.0" fill="#b4d49c" transform="rotate(0 181.0 370.0)"/>
<ellipse cx="187.0" cy="362.0" rx="3.0" ry="3.4" fill="#b4d49c" transform="rotate(0 187.0 362.0)"/>
<ellipse cx="192.0" cy="367.0" rx="2.0" ry="1.2" fill="#b4d49c" transform="rotate(0 192.0 367.0)"/>
<ellipse cx="199.0" cy="364.0" rx="2.0" ry="3.0" fill="#b4d49c" transform="rotate(0 199.0 364.0)"/>
<ellipse cx="205.0" cy="359.0" rx="2.2" ry="3.6" fill="#b4d49c" transform="rotate(-15 205.0 359.0)"/>
<ellipse cx="200.0" cy="372.0" rx="1.0" ry="1.2" fill="#b4d49c" transform="rotate(0 200.0 372.0)"/>
<ellipse cx="181.4" cy="303.0" rx="1.4" ry="1.0" fill="#b4d49c" transform="rotate(0 181.4 303.0)"/>
<ellipse cx="185.2" cy="304.4" rx="2.0" ry="1.2" fill="#b4d49c" transform="rotate(10 185.2 304.4)"/>
<ellipse cx="187.2" cy="308.6" rx="1.2" ry="2.2" fill="#b4d49c" transform="rotate(0 187.2 308.6)"/>
<ellipse cx="186.0" cy="312.4" rx="1.6" ry="1.2" fill="#b4d49c" transform="rotate(0 186.0 312.4)"/>
<ellipse cx="188.4" cy="314.0" rx="1.2" ry="1.0" fill="#b4d49c" transform="rotate(0 188.4 314.0)"/>
<ellipse cx="201.0" cy="318.2" rx="0.9" ry="1.1" fill="#b4d49c" transform="rotate(0 201.0 318.2)"/>
<ellipse cx="201.6" cy="325.0" rx="1.3" ry="2.6" fill="#b4d49c" transform="rotate(-5 201.6 325.0)"/>
<ellipse cx="202.4" cy="329.2" rx="1.0" ry="1.6" fill="#b4d49c" transform="rotate(0 202.4 329.2)"/>
<ellipse cx="210.0" cy="352.4" rx="2.4" ry="2.0" fill="#b4d49c" transform="rotate(0 210.0 352.4)"/>
<ellipse cx="202.4" cy="348.0" rx="1.5" ry="2.5" fill="#b4d49c" transform="rotate(0 202.4 348.0)"/>
<ellipse cx="62.0" cy="289.5" rx="1.2" ry="0.7" fill="#b4d49c" transform="rotate(0 62.0 289.5)"/>
<polygon points="114.0,322.0 126.0,318.0 140.0,320.0 146.0,330.0 144.0,342.0 136.0,350.0 126.0,354.0 116.0,352.0 110.0,344.0 116.0,336.0 112.0,328.0" fill="#a0c88a" opacity="0.7"/>
<polygon points="96.0,338.0 106.0,337.0 113.0,343.0 111.0,354.0 103.0,357.6 96.0,355.0 94.4,346.0" fill="#a0c88a" opacity="0.7"/>
<polygon points="72.4,341.0 82.0,337.0 86.0,340.0 86.0,350.0 80.0,355.0 76.0,351.0" fill="#a0c88a" opacity="0.7"/>
<polygon points="55.0,392.0 64.0,387.0 76.0,383.0 88.0,378.6 100.0,374.0 108.0,369.0 110.0,373.0 102.0,379.0 98.0,389.0 90.0,394.0 80.0,396.0 70.0,400.0 60.0,401.0 53.0,405.0 51.0,399.0" fill="#a0c88a" opacity="0.7"/>
<polygon points="158.0,310.0 170.0,307.0 178.0,315.0 188.0,317.0 182.0,321.0 170.0,320.0 164.0,322.0 156.0,316.0" fill="#a0c88a" opacity="0.7"/>
<polygon points="182.0,332.0 190.0,326.0 196.0,333.0 202.0,334.0 207.0,339.0 212.0,342.0 208.0,350.0 200.0,352.0 190.0,350.0 184.0,342.0" fill="#a0c88a" opacity="0.7"/>
<polygon points="225.0,294.0 234.0,302.0 238.0,312.0 240.0,326.0 250.0,332.0 250.0,306.0 240.0,294.0 230.0,290.0" fill="#a0c88a" opacity="0.7"/>
<polygon points="150.0,288.0 160.0,288.0 162.0,300.0 154.0,305.0 150.0,304.0" fill="#a0c88a" opacity="0.7"/>
<polygon points="154.0,340.0 164.0,342.0 172.0,344.0 174.0,352.0 166.0,357.0 158.0,356.0 154.0,348.0" fill="#a0c88a" opacity="0.7"/>
<polygon points="138.0,386.6 150.0,384.6 162.0,385.4 168.0,392.0 167.0,402.0 164.0,396.0 159.0,396.0 157.0,402.0 154.0,397.0 148.0,395.0 140.0,392.0" fill="#a0c88a" opacity="0.7"/>
<polygon points="148.0,314.0 156.4,312.2 160.0,318.8 158.8,329.6 152.8,326.0 149.2,320.0" fill="#a0c88a" opacity="0.7"/>
<polygon points="139.6,355.8 150.4,356.6 160.0,358.6 162.2,360.6 159.8,364.2 156.4,363.6 148.0,361.4 140.8,359.8" fill="#a0c88a" opacity="0.7"/>
</g>
<g clip-path="url(#mainclip)">
<polygon points="42.0,282.0 204.0,282.0 194.0,288.0 185.0,291.0 178.0,297.0 172.0,295.0 166.0,294.0 160.0,292.0 150.0,297.0 142.0,301.0 136.0,305.0 124.0,307.0 112.0,315.0 100.0,316.0 60.0,340.0 42.0,340.0" fill="#ece9e0" />
<polygon points="86.0,332.0 92.0,320.0 103.0,320.0 110.0,317.0 112.0,315.0 124.0,307.0 136.0,305.0 142.0,301.0 148.0,304.0 146.0,309.5 137.0,312.0 129.0,316.0 126.0,322.0 121.0,329.0 111.0,332.5 100.0,334.0 92.0,333.0" fill="#ece9e0" opacity="0.82"/>
<polygon points="87.6,332.0 93.6,333.0 93.2,354.0 94.4,358.0 86.6,353.6 88.0,340.0" fill="#ece9e0" opacity="0.82"/>
<polygon points="101.0,360.4 110.0,358.4 120.0,357.4 128.0,355.4 139.6,356.0 150.4,357.2 160.0,359.0 162.2,360.8 162.2,366.0 167.0,369.6 171.8,366.0 175.6,369.4 175.5,371.5 174.5,379.0 171.0,383.0 128.0,386.0 118.0,366.0" fill="#ece9e0" />
<polygon points="149.0,338.0 156.5,341.0 151.0,350.0 145.0,356.5 139.5,356.5 144.0,347.0" fill="#ece9e0" opacity="0.82"/>
<polygon points="143.5,327.5 152.5,329.5 152.5,337.5 146.0,336.5" fill="#ece9e0" opacity="0.82"/>
<polygon points="155.0,338.5 168.0,337.5 169.0,341.0 156.0,342.5" fill="#ece9e0" opacity="0.82"/>
<polygon points="176.0,351.0 181.0,352.0 180.0,357.0 176.0,357.0" fill="#ece9e0" opacity="0.82"/>
<polygon points="145.6,287.6 154.0,285.8 160.0,287.0 155.0,287.6 162.2,286.4 168.2,291.2 165.8,297.2 161.0,302.0 155.0,304.4 156.4,302.0 149.2,299.6 144.4,293.6" fill="#b4d49c" />
<polygon points="150.0,285.0 162.0,286.0 164.0,294.0 162.0,301.0 157.0,304.4 150.0,305.6" fill="#b4d49c" />
<polygon points="63.2,316.4 68.6,315.4 69.2,320.0 65.6,322.4 63.2,320.6" fill="#b4d49c" />
<polygon points="113.2,286.4 119.2,285.8 121.0,290.6 114.4,292.4 111.4,289.4" fill="#b4d49c" />
<polygon points="101.2,291.2 107.2,290.6 109.6,294.2 103.6,296.0 100.0,294.8" fill="#b4d49c" />
<polygon points="130.6,290.6 134.2,291.2 133.6,294.2 130.0,293.6" fill="#b4d49c" />
<polygon points="89.6,292.4 96.8,290.6 100.4,295.4 94.4,297.2 90.2,296.0" fill="#b4d49c" />
<polygon points="50.6,287.6 54.8,287.0 56.0,290.0 51.8,291.2" fill="#b4d49c" />
<polygon points="124.0,299.6 131.2,299.0 133.6,303.2 126.4,304.4" fill="#b4d49c" />
<polygon points="74.0,302.0 80.0,300.8 81.2,305.6 76.4,306.8" fill="#b4d49c" />
<polygon points="136.0,286.4 142.0,285.2 143.2,290.0 138.4,291.2" fill="#b4d49c" />
<polygon points="84.0,288.0 102.0,286.0 104.0,298.0 92.0,301.0 84.0,297.0" fill="#b4d49c" />
<polygon points="106.0,299.0 123.0,298.0 125.0,308.0 110.0,310.0" fill="#b4d49c" />
<polygon points="130.0,288.0 148.0,287.0 150.0,303.0 138.0,304.0 130.0,298.0" fill="#b4d49c" />
<polygon points="46.0,300.0 52.0,297.0 55.0,304.0 49.0,308.0" fill="#b4d49c" />
</g>
<polygon points="216.0,281.0 216.0,284.4 220.0,288.0 224.0,292.0 228.0,294.0 230.0,298.0 234.0,301.0 238.0,305.0 239.2,312.0 241.2,312.0 240.4,305.0 236.4,299.0 232.4,294.4 229.6,290.4 225.0,286.4 222.0,281.0" fill="#ece9e0" opacity="0.85"/>
<polygon points="131.0,384.0 136.0,382.0 142.0,382.6 150.0,380.6 156.0,380.6 163.0,382.0 167.0,385.0 170.0,389.0 168.4,389.4 166.0,387.0 163.0,385.0 157.0,383.6 150.0,383.6 142.0,385.2 134.4,385.6 131.0,387.0" fill="#ece9e0" />
<polygon points="59.0,374.0 66.0,370.0 77.0,371.0 78.4,378.0 76.0,381.0 68.0,382.2 60.0,380.0" fill="#d9dff2" />
<polygon points="167.0,319.0 172.0,321.0 180.0,321.0 181.0,324.0 176.0,327.0 170.0,330.0 167.0,328.0 164.0,325.0" fill="#d9dff2" />
<ellipse cx="139.8" cy="293.6" rx="2.4" ry="3.2" fill="#8ec4ee" transform="rotate(30 139.8 293.6)"/>
<polygon points="242.4,292.0 245.6,291.6 246.4,298.0 245.6,304.0 243.0,302.0 241.6,296.0" fill="#7dbbea" />
<polygon points="56.6,303.8 62.0,304.6 62.6,311.6 58.4,312.2 56.6,308.0" fill="#7dbbea" />
<ellipse cx="139.3" cy="354.6" rx="0.9" ry="2.0" fill="#8ec4ee" transform="rotate(20 139.3 354.6)"/>
<ellipse cx="65.0" cy="398.0" rx="1.3" ry="1.8" fill="#8ec4ee" transform="rotate(0 65.0 398.0)"/>
<ellipse cx="114.0" cy="340.0" rx="3.0" ry="1.6" fill="#b9c8f0" transform="rotate(0 114.0 340.0)"/>
<ellipse cx="97.0" cy="322.0" rx="3.2" ry="2.6" fill="#cfe3f3" transform="rotate(0 97.0 322.0)"/>
<ellipse cx="188.0" cy="302.0" rx="0" ry="0" fill="#b4d49c" transform="rotate(0 188.0 302.0)"/>
<polyline points="44.0,291.2 51.2,297.2 57.2,303.2 62.0,309.2 69.2,314.0 77.6,315.4 80.0,320.0 86.0,328.6" fill="none" stroke="#f2b391" stroke-width="0.6" stroke-linecap="round" stroke-linejoin="round" />
<polyline points="59.6,286.4 65.6,293.6 72.8,297.2 80.0,298.4 89.6,300.2 99.2,303.2 104.8,305.6 114.4,308.0 124.0,306.8 136.0,305.0 142.0,300.8 150.4,297.2" fill="none" stroke="#f2b391" stroke-width="0.6" stroke-linecap="round" stroke-linejoin="round" />
<polyline points="72.8,285.2 73.4,297.2 69.8,302.0 62.0,303.2" fill="none" stroke="#f2b391" stroke-width="0.6" stroke-linecap="round" stroke-linejoin="round" />
<polyline points="46.4,286.4 53.6,292.4 60.8,296.0 73.4,297.4" fill="none" stroke="#f2b391" stroke-width="0.6" stroke-linecap="round" stroke-linejoin="round" />
<polyline points="83.6,292.4 84.8,299.6 99.2,298.4 104.0,293.6" fill="none" stroke="#f2b391" stroke-width="0.6" stroke-linecap="round" stroke-linejoin="round" />
<polyline points="80.0,302.0 94.4,304.4 104.0,308.0" fill="none" stroke="#f2b391" stroke-width="0.6" stroke-linecap="round" stroke-linejoin="round" />
<polyline points="100.0,298.4 110.8,299.0 124.0,297.2 136.0,298.4" fill="none" stroke="#f2b391" stroke-width="0.6" stroke-linecap="round" stroke-linejoin="round" />
<polyline points="114.4,284.0 115.6,298.4 118.0,308.0" fill="none" stroke="#f2b391" stroke-width="0.6" stroke-linecap="round" stroke-linejoin="round" />
<polyline points="136.0,298.4 139.6,305.6 148.0,310.4 151.6,320.0 150.4,329.6 145.6,333.6 151.6,340.8 152.8,349.2 156.4,357.6" fill="none" stroke="#f2b391" stroke-width="0.6" stroke-linecap="round" stroke-linejoin="round" />
<polyline points="104.8,316.4 114.4,314.6 119.2,309.8 128.8,307.4 138.4,305.6" fill="none" stroke="#f2b391" stroke-width="0.6" stroke-linecap="round" stroke-linejoin="round" />
<polyline points="112.0,320.0 120.4,317.6 131.2,318.8 138.4,322.4 140.8,332.0 139.6,334.8 143.2,330.0" fill="none" stroke="#f2b391" stroke-width="0.6" stroke-linecap="round" stroke-linejoin="round" />
<polyline points="90.0,328.0 89.0,340.0 90.0,353.0 100.0,358.4 110.0,360.0 118.0,359.4 126.0,363.6 131.0,368.0" fill="none" stroke="#f2b391" stroke-width="0.6" stroke-linecap="round" stroke-linejoin="round" />
<polyline points="90.0,328.0 100.0,324.0 112.0,322.0 124.0,320.0 130.0,312.0" fill="none" stroke="#f2b391" stroke-width="0.6" stroke-linecap="round" stroke-linejoin="round" />
<polyline points="100.0,324.0 102.0,334.0 92.0,342.0" fill="none" stroke="#f2b391" stroke-width="0.6" stroke-linecap="round" stroke-linejoin="round" />
<polyline points="112.0,322.0 114.0,340.0 110.0,360.0" fill="none" stroke="#f2b391" stroke-width="0.6" stroke-linecap="round" stroke-linejoin="round" />
<polyline points="81.0,373.0 83.0,367.0 82.0,359.0" fill="none" stroke="#f2b391" stroke-width="0.6" stroke-linecap="round" stroke-linejoin="round" />
<polyline points="40.0,383.6 55.0,385.0 62.0,383.0 68.0,382.0 80.0,377.8 92.0,373.6 100.0,370.2 109.0,364.6 120.0,359.2" fill="none" stroke="#f2b391" stroke-width="0.6" stroke-linecap="round" stroke-linejoin="round" />
<polyline points="130.0,353.4 136.0,354.0 143.2,352.8 150.4,355.2 160.0,358.8 159.8,366.0 157.4,375.6" fill="none" stroke="#f2b391" stroke-width="0.6" stroke-linecap="round" stroke-linejoin="round" />
<polyline points="132.4,358.8 139.6,366.0 145.6,369.6 150.4,366.0 156.4,366.0 160.0,370.8 162.2,375.6 170.6,380.0" fill="none" stroke="#f2b391" stroke-width="0.6" stroke-linecap="round" stroke-linejoin="round" />
<polyline points="139.6,369.6 143.2,363.6 148.0,360.0 152.8,349.2" fill="none" stroke="#f2b391" stroke-width="0.6" stroke-linecap="round" stroke-linejoin="round" />
<polyline points="134.0,383.0 142.0,383.6 150.0,381.6 157.0,381.6 163.0,383.0 168.0,387.0" fill="none" stroke="#f2b391" stroke-width="0.6" stroke-linecap="round" stroke-linejoin="round" />
<polyline points="149.0,382.0 149.0,390.0" fill="none" stroke="#f2b391" stroke-width="0.6" stroke-linecap="round" stroke-linejoin="round" />
<polyline points="150.0,290.0 162.0,291.0 174.0,291.6 186.0,289.0 200.0,285.0" fill="none" stroke="#f2b391" stroke-width="0.6" stroke-linecap="round" stroke-linejoin="round" />
<polyline points="150.0,304.0 158.0,302.0 166.0,298.0 174.0,292.0" fill="none" stroke="#f2b391" stroke-width="0.6" stroke-linecap="round" stroke-linejoin="round" />
<polyline points="218.0,282.0 226.0,292.0 234.0,301.0 239.0,312.0" fill="none" stroke="#f2b391" stroke-width="0.6" stroke-linecap="round" stroke-linejoin="round" />
<polyline points="46.0,287.0 70.0,291.0 100.0,293.0 130.0,296.0 160.0,294.0" fill="none" stroke="#f6cfa0" stroke-width="0.55" stroke-linecap="round" stroke-linejoin="round" opacity="0.9"/>
<polyline points="50.0,296.0 80.0,300.0 110.0,303.0 140.0,300.0" fill="none" stroke="#f6cfa0" stroke-width="0.55" stroke-linecap="round" stroke-linejoin="round" opacity="0.9"/>
<polyline points="70.0,284.0 72.0,300.0 74.0,312.0" fill="none" stroke="#f6cfa0" stroke-width="0.55" stroke-linecap="round" stroke-linejoin="round" opacity="0.9"/>
<polyline points="90.0,284.0 92.0,300.0 96.0,310.0" fill="none" stroke="#f6cfa0" stroke-width="0.55" stroke-linecap="round" stroke-linejoin="round" opacity="0.9"/>
<polyline points="110.0,284.0 112.0,300.0 118.0,308.0" fill="none" stroke="#f6cfa0" stroke-width="0.55" stroke-linecap="round" stroke-linejoin="round" opacity="0.9"/>
<polyline points="128.0,284.0 130.0,296.0 136.0,304.0" fill="none" stroke="#f6cfa0" stroke-width="0.55" stroke-linecap="round" stroke-linejoin="round" opacity="0.9"/>
<polyline points="146.0,284.0 148.0,296.0 152.0,300.0" fill="none" stroke="#f6cfa0" stroke-width="0.55" stroke-linecap="round" stroke-linejoin="round" opacity="0.9"/>
<polyline points="58.0,300.0 64.0,312.0 66.0,326.0" fill="none" stroke="#f6cfa0" stroke-width="0.55" stroke-linecap="round" stroke-linejoin="round" opacity="0.9"/>
<polyline points="60.0,306.0 76.0,310.0 90.0,309.0" fill="none" stroke="#f6cfa0" stroke-width="0.55" stroke-linecap="round" stroke-linejoin="round" opacity="0.9"/>
<polyline points="165.0,284.0 170.0,292.0 185.0,290.0 200.0,285.0" fill="none" stroke="#f6cfa0" stroke-width="0.55" stroke-linecap="round" stroke-linejoin="round" opacity="0.9"/>
<polyline points="131.0,360.0 140.0,362.0 150.0,364.0 160.0,366.0" fill="none" stroke="#f6cfa0" stroke-width="0.55" stroke-linecap="round" stroke-linejoin="round" opacity="0.9"/>
<polyline points="135.0,356.0 138.0,366.0 142.0,372.0" fill="none" stroke="#f6cfa0" stroke-width="0.55" stroke-linecap="round" stroke-linejoin="round" opacity="0.9"/>
<polyline points="146.0,356.0 148.0,366.0 150.0,372.0" fill="none" stroke="#f6cfa0" stroke-width="0.55" stroke-linecap="round" stroke-linejoin="round" opacity="0.9"/>
<polyline points="155.0,358.0 157.0,368.0 160.0,373.0" fill="none" stroke="#f6cfa0" stroke-width="0.55" stroke-linecap="round" stroke-linejoin="round" opacity="0.9"/>
<polyline points="100.0,318.0 112.0,320.0 124.0,318.0 134.0,312.0" fill="none" stroke="#f6cfa0" stroke-width="0.55" stroke-linecap="round" stroke-linejoin="round" opacity="0.9"/>
<polyline points="96.0,328.0 108.0,326.0 120.0,324.0" fill="none" stroke="#f6cfa0" stroke-width="0.55" stroke-linecap="round" stroke-linejoin="round" opacity="0.9"/>
</g>
</g>
<rect x="44.4" y="284.3" width="205.29999999999998" height="143.09999999999997" fill="none" stroke="#222" stroke-width="0.6"/>
<line x1="65.5" x2="65.5" y1="427.4" y2="429.2" stroke="#222" stroke-width="0.5"/>
<line x1="213.6" x2="213.6" y1="427.4" y2="429.2" stroke="#222" stroke-width="0.5"/>
<line x1="42.6" x2="44.4" y1="318.7" y2="318.7" stroke="#222" stroke-width="0.5"/>
<line x1="42.6" x2="44.4" y1="408.1" y2="408.1" stroke="#222" stroke-width="0.5"/>
<text x="66.2" y="433.6" font-family="DejaVu Sans, Liberation Sans, sans-serif" font-size="5.5" text-anchor="middle" fill="#111">113.9°E</text>
<text x="213.4" y="433.6" font-family="DejaVu Sans, Liberation Sans, sans-serif" font-size="5.5" text-anchor="middle" fill="#111">114.4°E</text>
<text transform="translate(41.2,318.9) rotate(-90)" font-family="DejaVu Sans, Liberation Sans, sans-serif" font-size="5.5" text-anchor="end" fill="#111">22.5°N</text>
<text transform="translate(41.2,407.4) rotate(-90)" font-family="DejaVu Sans, Liberation Sans, sans-serif" font-size="5.5" text-anchor="end" fill="#111">22.2°N</text>
<circle cx="146.5" cy="377.6" r="4.3" fill="#28288c" stroke="#1a1a1a" stroke-width="0.9"/>
<circle cx="103.4" cy="407.8" r="4.3" fill="#fdd885" stroke="#1a1a1a" stroke-width="0.9"/>
<circle cx="221.6" cy="303.9" r="4.3" fill="#e9522f" stroke="#1a1a1a" stroke-width="0.9"/>
<circle cx="72.4" cy="375.0" r="4.3" fill="#a8d0e6" stroke="#1a1a1a" stroke-width="0.9"/>
<circle cx="146.6" cy="393.8" r="4.3" fill="#e6f2f6" stroke="#1a1a1a" stroke-width="0.9"/>
<circle cx="170.7" cy="373.0" r="4.3" fill="#fdc778" stroke="#1a1a1a" stroke-width="0.9"/>
<circle cx="146.3" cy="374.4" r="4.3" fill="#4372b6" stroke="#1a1a1a" stroke-width="0.9"/>
<circle cx="90.5" cy="327.3" r="4.3" fill="#f9aa5d" stroke="#1a1a1a" stroke-width="0.9"/>
<circle cx="108.0" cy="380.6" r="4.3" fill="#8ec0dc" stroke="#1a1a1a" stroke-width="0.9"/>
<circle cx="165.6" cy="325.4" r="4.3" fill="#c01a2b" stroke="#1a1a1a" stroke-width="0.9"/>
<circle cx="157.3" cy="347.0" r="4.3" fill="#fee296" stroke="#1a1a1a" stroke-width="0.9"/>
<circle cx="176.4" cy="355.4" r="4.3" fill="#d3e9f3" stroke="#1a1a1a" stroke-width="0.9"/>
<circle cx="159.5" cy="360.9" r="4.3" fill="#f9a65b" stroke="#1a1a1a" stroke-width="0.9"/>
<circle cx="141.6" cy="309.4" r="4.3" fill="#a30f2c" stroke="#1a1a1a" stroke-width="0.9"/>
<circle cx="132.2" cy="344.6" r="4.3" fill="#fde090" stroke="#1a1a1a" stroke-width="0.9"/>
<circle cx="98.6" cy="327.5" r="4.3" fill="#f47b49" stroke="#1a1a1a" stroke-width="0.9"/>
<text x="146.5" y="379.67" font-family="DejaVu Sans, Liberation Sans, sans-serif" font-size="5.6" font-weight="bold" text-anchor="middle" fill="#fff" text-rendering="geometricPrecision">4</text>
<text x="103.4" y="409.87" font-family="DejaVu Sans, Liberation Sans, sans-serif" font-size="5.6" font-weight="bold" text-anchor="middle" fill="#000" text-rendering="geometricPrecision">1</text>
<text x="221.6" y="305.97" font-family="DejaVu Sans, Liberation Sans, sans-serif" font-size="5.6" font-weight="bold" text-anchor="middle" fill="#fff" text-rendering="geometricPrecision">2</text>
<text x="72.4" y="377.07" font-family="DejaVu Sans, Liberation Sans, sans-serif" font-size="5.6" font-weight="bold" text-anchor="middle" fill="#000" text-rendering="geometricPrecision">3</text>
<text x="146.6" y="395.87" font-family="DejaVu Sans, Liberation Sans, sans-serif" font-size="5.6" font-weight="bold" text-anchor="middle" fill="#000" text-rendering="geometricPrecision">5</text>
<text x="170.7" y="375.07" font-family="DejaVu Sans, Liberation Sans, sans-serif" font-size="5.6" font-weight="bold" text-anchor="middle" fill="#000" text-rendering="geometricPrecision">6</text>
<text x="146.3" y="376.47" font-family="DejaVu Sans, Liberation Sans, sans-serif" font-size="5.6" font-weight="bold" text-anchor="middle" fill="#fff" text-rendering="geometricPrecision">7</text>
<text x="90.5" y="329.37" font-family="DejaVu Sans, Liberation Sans, sans-serif" font-size="5.6" font-weight="bold" text-anchor="middle" fill="#000" text-rendering="geometricPrecision">8</text>
<text x="108.0" y="382.67" font-family="DejaVu Sans, Liberation Sans, sans-serif" font-size="5.6" font-weight="bold" text-anchor="middle" fill="#000" text-rendering="geometricPrecision">9</text>
<text x="165.6" y="327.32" font-family="DejaVu Sans, Liberation Sans, sans-serif" font-size="5.2" font-weight="bold" text-anchor="middle" fill="#fff" text-rendering="geometricPrecision">10</text>
<text x="157.3" y="348.92" font-family="DejaVu Sans, Liberation Sans, sans-serif" font-size="5.2" font-weight="bold" text-anchor="middle" fill="#000" text-rendering="geometricPrecision">11</text>
<text x="176.4" y="357.32" font-family="DejaVu Sans, Liberation Sans, sans-serif" font-size="5.2" font-weight="bold" text-anchor="middle" fill="#000" text-rendering="geometricPrecision">12</text>
<text x="159.5" y="362.82" font-family="DejaVu Sans, Liberation Sans, sans-serif" font-size="5.2" font-weight="bold" text-anchor="middle" fill="#000" text-rendering="geometricPrecision">13</text>
<text x="141.6" y="311.32" font-family="DejaVu Sans, Liberation Sans, sans-serif" font-size="5.2" font-weight="bold" text-anchor="middle" fill="#fff" text-rendering="geometricPrecision">14</text>
<text x="132.2" y="346.52" font-family="DejaVu Sans, Liberation Sans, sans-serif" font-size="5.2" font-weight="bold" text-anchor="middle" fill="#000" text-rendering="geometricPrecision">15</text>
<text x="98.6" y="329.42" font-family="DejaVu Sans, Liberation Sans, sans-serif" font-size="5.2" font-weight="bold" text-anchor="middle" fill="#fff" text-rendering="geometricPrecision">16</text>
<defs><linearGradient id="gryb" x1="0" y1="0" x2="0" y2="1"><stop offset="0.000" stop-color="#a50026"/><stop offset="0.062" stop-color="#c21c27"/><stop offset="0.125" stop-color="#dd3d2d"/><stop offset="0.188" stop-color="#ef633f"/><stop offset="0.250" stop-color="#f88c51"/><stop offset="0.312" stop-color="#fdb366"/><stop offset="0.375" stop-color="#fed283"/><stop offset="0.438" stop-color="#feeba1"/><stop offset="0.500" stop-color="#fffebe"/><stop offset="0.562" stop-color="#ecf8e2"/><stop offset="0.625" stop-color="#d4edf4"/><stop offset="0.688" stop-color="#b2ddeb"/><stop offset="0.750" stop-color="#90c3dd"/><stop offset="0.812" stop-color="#6ea6ce"/><stop offset="0.875" stop-color="#5183bb"/><stop offset="0.938" stop-color="#3e5ea8"/><stop offset="1.000" stop-color="#313695"/></linearGradient></defs>
<rect x="214.1" y="373.1" width="9.4" height="45.7" fill="url(#gryb)" stroke="#333" stroke-width="0.4"/>
<line x1="223.5" x2="225.2" y1="384.7" y2="384.7" stroke="#222" stroke-width="0.5"/>
<text x="226.6" y="386.59999999999997" font-family="DejaVu Sans, Liberation Sans, sans-serif" font-size="5.5" fill="#111">1.0</text>
<line x1="223.5" x2="225.2" y1="397.0" y2="397.0" stroke="#222" stroke-width="0.5"/>
<text x="226.6" y="398.9" font-family="DejaVu Sans, Liberation Sans, sans-serif" font-size="5.5" fill="#111">0.9</text>
<line x1="223.5" x2="225.2" y1="409.1" y2="409.1" stroke="#222" stroke-width="0.5"/>
<text x="226.6" y="411.0" font-family="DejaVu Sans, Liberation Sans, sans-serif" font-size="5.5" fill="#111">0.8</text>
<text transform="translate(241.6,398.7) rotate(90)" font-family="DejaVu Sans, Liberation Sans, sans-serif" font-size="5.5" text-anchor="middle" fill="#111">RMSE (°C)</text>
<rect x="44.4" y="253.3" width="205.2" height="28.30000000000001" fill="#fff"/>
<line x1="65.5" x2="65.5" y1="253.3" y2="281.6" stroke="#dedede" stroke-width="0.5"/>
<line x1="65.5" x2="65.5" y1="253.3" y2="254.8" stroke="#222" stroke-width="0.4"/>
<line x1="65.5" x2="65.5" y1="281.6" y2="280.1" stroke="#222" stroke-width="0.4"/>
<line x1="95.1" x2="95.1" y1="253.3" y2="281.6" stroke="#dedede" stroke-width="0.5"/>
<line x1="95.1" x2="95.1" y1="253.3" y2="254.8" stroke="#222" stroke-width="0.4"/>
<line x1="95.1" x2="95.1" y1="281.6" y2="280.1" stroke="#222" stroke-width="0.4"/>
<line x1="124.7" x2="124.7" y1="253.3" y2="281.6" stroke="#dedede" stroke-width="0.5"/>
<line x1="124.7" x2="124.7" y1="253.3" y2="254.8" stroke="#222" stroke-width="0.4"/>
<line x1="124.7" x2="124.7" y1="281.6" y2="280.1" stroke="#222" stroke-width="0.4"/>
<line x1="154.4" x2="154.4" y1="253.3" y2="281.6" stroke="#dedede" stroke-width="0.5"/>
<line x1="154.4" x2="154.4" y1="253.3" y2="254.8" stroke="#222" stroke-width="0.4"/>
<line x1="154.4" x2="154.4" y1="281.6" y2="280.1" stroke="#222" stroke-width="0.4"/>
<line x1="184.0" x2="184.0" y1="253.3" y2="281.6" stroke="#dedede" stroke-width="0.5"/>
<line x1="184.0" x2="184.0" y1="253.3" y2="254.8" stroke="#222" stroke-width="0.4"/>
<line x1="184.0" x2="184.0" y1="281.6" y2="280.1" stroke="#222" stroke-width="0.4"/>
<line x1="213.6" x2="213.6" y1="253.3" y2="281.6" stroke="#dedede" stroke-width="0.5"/>
<line x1="213.6" x2="213.6" y1="253.3" y2="254.8" stroke="#222" stroke-width="0.4"/>
<line x1="213.6" x2="213.6" y1="281.6" y2="280.1" stroke="#222" stroke-width="0.4"/>
<line x1="243.2" x2="243.2" y1="253.3" y2="281.6" stroke="#dedede" stroke-width="0.5"/>
<line x1="243.2" x2="243.2" y1="253.3" y2="254.8" stroke="#222" stroke-width="0.4"/>
<line x1="243.2" x2="243.2" y1="281.6" y2="280.1" stroke="#222" stroke-width="0.4"/>
<line x1="44.4" x2="249.6" y1="263.7" y2="263.7" stroke="#dedede" stroke-width="0.5"/>
<line x1="44.4" x2="45.9" y1="263.7" y2="263.7" stroke="#222" stroke-width="0.4"/>
<line x1="44.4" x2="249.6" y1="276.2" y2="276.2" stroke="#dedede" stroke-width="0.5"/>
<line x1="44.4" x2="45.9" y1="276.2" y2="276.2" stroke="#222" stroke-width="0.4"/>
<polyline points="72.3,270.2 90.4,268.0 98.0,267.1 103.3,267.2 108.0,267.4 132.0,267.1 141.6,269.6 146.5,271.8 157.3,266.0 159.5,264.8 165.6,265.0 170.7,267.0 176.3,269.4 221.5,262.2" fill="none" stroke="#f0262b" stroke-width="0.9" stroke-linecap="round" stroke-linejoin="round" />
<circle cx="72.3" cy="272.6" r="1.7" fill="none" stroke="#1f77b4" stroke-width="1.0"/>
<circle cx="90.5" cy="265.0" r="1.7" fill="none" stroke="#1f77b4" stroke-width="1.0"/>
<circle cx="98" cy="263.0" r="1.7" fill="none" stroke="#1f77b4" stroke-width="1.0"/>
<circle cx="103.2" cy="266.3" r="1.7" fill="none" stroke="#1f77b4" stroke-width="1.0"/>
<circle cx="108.2" cy="272.8" r="1.7" fill="none" stroke="#1f77b4" stroke-width="1.0"/>
<circle cx="132" cy="266.6" r="1.7" fill="none" stroke="#1f77b4" stroke-width="1.0"/>
<circle cx="141.6" cy="258.5" r="1.7" fill="none" stroke="#1f77b4" stroke-width="1.0"/>
<circle cx="146.5" cy="270.2" r="1.7" fill="none" stroke="#1f77b4" stroke-width="1.0"/>
<circle cx="146.0" cy="276.0" r="1.7" fill="none" stroke="#1f77b4" stroke-width="1.0"/>
<circle cx="146.8" cy="278.0" r="1.7" fill="none" stroke="#1f77b4" stroke-width="1.0"/>
<circle cx="157.2" cy="266.6" r="1.7" fill="none" stroke="#1f77b4" stroke-width="1.0"/>
<circle cx="159.5" cy="264.8" r="1.7" fill="none" stroke="#1f77b4" stroke-width="1.0"/>
<circle cx="165.5" cy="259.8" r="1.7" fill="none" stroke="#1f77b4" stroke-width="1.0"/>
<circle cx="170.7" cy="265.5" r="1.7" fill="none" stroke="#1f77b4" stroke-width="1.0"/>
<circle cx="176.2" cy="270.7" r="1.7" fill="none" stroke="#1f77b4" stroke-width="1.0"/>
<circle cx="221.4" cy="262.2" r="1.7" fill="none" stroke="#1f77b4" stroke-width="1.0"/>
<rect x="44.4" y="253.3" width="205.2" height="28.30000000000001" fill="none" stroke="#222" stroke-width="0.6"/>
<text x="42.2" y="265.9" font-family="DejaVu Sans, Liberation Sans, sans-serif" font-size="5.4" text-anchor="end" fill="#111">1.00</text>
<text x="42.2" y="278.6" font-family="DejaVu Sans, Liberation Sans, sans-serif" font-size="5.4" text-anchor="end" fill="#111">0.75</text>
<text transform="translate(26.6,268.2) rotate(-90)" font-family="DejaVu Sans, Liberation Sans, sans-serif" font-size="5.5" text-anchor="middle" fill="#111">RMSE(°C)</text>
<rect x="253.5" y="284.3" width="27.899999999999977" height="143.09999999999997" fill="#fff"/>
<line x1="258.6" x2="258.6" y1="284.3" y2="427.4" stroke="#dedede" stroke-width="0.5"/>
<line x1="258.6" x2="258.6" y1="427.4" y2="425.9" stroke="#222" stroke-width="0.4"/>
<line x1="258.6" x2="258.6" y1="284.3" y2="285.8" stroke="#222" stroke-width="0.4"/>
<line x1="271.4" x2="271.4" y1="284.3" y2="427.4" stroke="#dedede" stroke-width="0.5"/>
<line x1="271.4" x2="271.4" y1="427.4" y2="425.9" stroke="#222" stroke-width="0.4"/>
<line x1="271.4" x2="271.4" y1="284.3" y2="285.8" stroke="#222" stroke-width="0.4"/>
<line x1="253.5" x2="281.4" y1="288.9" y2="288.9" stroke="#dedede" stroke-width="0.5"/>
<line x1="253.5" x2="255.0" y1="288.9" y2="288.9" stroke="#222" stroke-width="0.4"/>
<line x1="281.4" x2="279.9" y1="288.9" y2="288.9" stroke="#222" stroke-width="0.4"/>
<line x1="253.5" x2="281.4" y1="318.7" y2="318.7" stroke="#dedede" stroke-width="0.5"/>
<line x1="253.5" x2="255.0" y1="318.7" y2="318.7" stroke="#222" stroke-width="0.4"/>
<line x1="281.4" x2="279.9" y1="318.7" y2="318.7" stroke="#222" stroke-width="0.4"/>
<line x1="253.5" x2="281.4" y1="348.5" y2="348.5" stroke="#dedede" stroke-width="0.5"/>
<line x1="253.5" x2="255.0" y1="348.5" y2="348.5" stroke="#222" stroke-width="0.4"/>
<line x1="281.4" x2="279.9" y1="348.5" y2="348.5" stroke="#222" stroke-width="0.4"/>
<line x1="253.5" x2="281.4" y1="378.3" y2="378.3" stroke="#dedede" stroke-width="0.5"/>
<line x1="253.5" x2="255.0" y1="378.3" y2="378.3" stroke="#222" stroke-width="0.4"/>
<line x1="281.4" x2="279.9" y1="378.3" y2="378.3" stroke="#222" stroke-width="0.4"/>
<line x1="253.5" x2="281.4" y1="408.1" y2="408.1" stroke="#dedede" stroke-width="0.5"/>
<line x1="253.5" x2="255.0" y1="408.1" y2="408.1" stroke="#222" stroke-width="0.4"/>
<line x1="281.4" x2="279.9" y1="408.1" y2="408.1" stroke="#222" stroke-width="0.4"/>
<polyline points="274.3,303.9 273.6,309.4 271.6,325.4 271.3,327.0 268.6,344.6 268.2,347.0 266.8,355.4 265.9,361.0 263.6,373.0 262.6,376.0 262.0,380.2 264.4,394.0 268.4,408.0" fill="none" stroke="#f0262b" stroke-width="0.9" stroke-linecap="round" stroke-linejoin="round" />
<circle cx="272.4" cy="303.8" r="1.7" fill="none" stroke="#1f77b4" stroke-width="1.0"/>
<circle cx="276.1" cy="309.5" r="1.7" fill="none" stroke="#1f77b4" stroke-width="1.0"/>
<circle cx="274.6" cy="325.5" r="1.7" fill="none" stroke="#1f77b4" stroke-width="1.0"/>
<circle cx="270.1" cy="327.6" r="1.7" fill="none" stroke="#1f77b4" stroke-width="1.0"/>
<circle cx="271.5" cy="328.0" r="1.7" fill="none" stroke="#1f77b4" stroke-width="1.0"/>
<circle cx="267.8" cy="344.6" r="1.7" fill="none" stroke="#1f77b4" stroke-width="1.0"/>
<circle cx="267.8" cy="347.4" r="1.7" fill="none" stroke="#1f77b4" stroke-width="1.0"/>
<circle cx="263.7" cy="355.4" r="1.7" fill="none" stroke="#1f77b4" stroke-width="1.0"/>
<circle cx="269.5" cy="360.8" r="1.7" fill="none" stroke="#1f77b4" stroke-width="1.0"/>
<circle cx="268.8" cy="373.2" r="1.7" fill="none" stroke="#1f77b4" stroke-width="1.0"/>
<circle cx="258.8" cy="374.2" r="1.7" fill="none" stroke="#1f77b4" stroke-width="1.0"/>
<circle cx="262.5" cy="375.5" r="1.7" fill="none" stroke="#1f77b4" stroke-width="1.0"/>
<circle cx="256.7" cy="377.5" r="1.7" fill="none" stroke="#1f77b4" stroke-width="1.0"/>
<circle cx="262.0" cy="380.8" r="1.7" fill="none" stroke="#1f77b4" stroke-width="1.0"/>
<circle cx="264.4" cy="394.0" r="1.7" fill="none" stroke="#1f77b4" stroke-width="1.0"/>
<circle cx="268.4" cy="408.0" r="1.7" fill="none" stroke="#1f77b4" stroke-width="1.0"/>
<rect x="253.5" y="284.3" width="27.899999999999977" height="143.09999999999997" fill="none" stroke="#222" stroke-width="0.6"/>
<text x="258.3" y="433.8" font-family="DejaVu Sans, Liberation Sans, sans-serif" font-size="5.5" text-anchor="middle" fill="#111">0.75</text>
<text x="270.8" y="433.8" font-family="DejaVu Sans, Liberation Sans, sans-serif" font-size="5.5" text-anchor="middle" fill="#111">1.00</text>
<text x="267.3" y="441.2" font-family="DejaVu Sans, Liberation Sans, sans-serif" font-size="5.6" text-anchor="middle" fill="#111">RMSE(°C)</text>
</g>
<g id="panelC">
<text x="289.9" y="260.8" font-family="Liberation Sans, sans-serif" font-size="9.6" fill="#111">(c)</text>
<circle cx="340.5" cy="260.5" r="2.1" fill="#e0566a"/>
<text x="351.0" y="261.7" font-family="Liberation Sans, sans-serif" font-size="6.0" fill="#111">Summer Day (***)</text>
<circle cx="340.5" cy="268.9" r="2.1" fill="#f67d3c"/>
<text x="351.0" y="270.09999999999997" font-family="Liberation Sans, sans-serif" font-size="6.0" fill="#111">Summer Night (**)</text>
<circle cx="417" cy="260.5" r="2.1" fill="#1f4fae"/>
<text x="427.5" y="261.7" font-family="Liberation Sans, sans-serif" font-size="6.0" fill="#111">Winter Day (**)</text>
<circle cx="417" cy="268.9" r="2.1" fill="#54b1ef"/>
<text x="427.5" y="270.09999999999997" font-family="Liberation Sans, sans-serif" font-size="6.0" fill="#111">Winter Night (***)</text>
<rect x="312.0" y="281.4" width="182.5" height="146.0" fill="#fff"/>
<defs><clipPath id="cclip"><rect x="312.0" y="281.4" width="182.5" height="146.0"/></clipPath></defs>
<polygon points="357.3,355.5 375.0,343.0 392.0,327.0 408.0,310.5 424.3,292.5 424.3,305.0 408.0,317.0 392.0,332.5 375.0,351.0 357.3,369.5" fill="#d8384a" opacity="0.15"/>
<polygon points="320.0,412.8 332.0,408.6 344.0,403.0 344.0,411.0 332.0,413.0 320.0,416.6" fill="#f4692a" opacity="0.2"/>
<polygon points="433.8,368.0 450.0,352.0 465.0,334.0 478.0,318.0 486.6,309.5 486.6,346.0 478.0,350.0 465.0,359.0 450.0,370.0 433.8,384.0" fill="#1f4fae" opacity="0.14"/>
<polygon points="415.1,404.0 430.0,390.0 445.0,374.0 460.0,355.0 474.2,338.0 474.2,366.0 460.0,378.0 445.0,392.0 430.0,406.0 415.1,421.0" fill="#54b1ef" opacity="0.18"/>
<line x1="357.3" y1="367.8" x2="424.3" y2="296.8" stroke="#d8384a" stroke-width="1.25" stroke-linecap="round"/>
<line x1="320" y1="414.8" x2="344" y2="407.0" stroke="#f4692a" stroke-width="1.25" stroke-linecap="round"/>
<line x1="433.8" y1="377.2" x2="486.6" y2="327.8" stroke="#1f4fae" stroke-width="1.25" stroke-linecap="round"/>
<line x1="415.1" y1="413.6" x2="474.3" y2="352.0" stroke="#54b1ef" stroke-width="1.25" stroke-linecap="round"/>
<circle cx="320" cy="415" r="2.05" fill="#f4692a"/>
<circle cx="322.8" cy="417" r="2.05" fill="#f4692a"/>
<circle cx="331.6" cy="415.4" r="2.05" fill="#f4692a"/>
<circle cx="340.4" cy="402.6" r="2.05" fill="#f4692a"/>
<circle cx="343.2" cy="401.8" r="2.05" fill="#f4692a"/>
<circle cx="344" cy="405" r="2.05" fill="#f4692a"/>
<circle cx="345.2" cy="409.8" r="2.05" fill="#f4692a"/>
<circle cx="338.4" cy="405.4" r="2.05" fill="#f4692a"/>
<circle cx="336" cy="409.4" r="2.05" fill="#f4692a"/>
<circle cx="329" cy="411" r="2.05" fill="#f4692a"/>
<polygon points="326.80,405.70 329.70,410.86 323.90,410.86" fill="#f4692a" stroke="#808080" stroke-width="1.15" stroke-linejoin="miter"/>
<circle cx="333.2" cy="405.8" r="2.5" fill="#f4692a" stroke="#808080" stroke-width="1.15"/>
<rect x="330.90" y="409.50" width="4.6" height="4.6" fill="#f4692a" stroke="#808080" stroke-width="1.15"/>
<rect x="336.50" y="409.10" width="4.6" height="4.6" fill="#f4692a" stroke="#808080" stroke-width="1.15"/>
<circle cx="377" cy="337.4" r="2.05" fill="#d8384a"/>
<circle cx="380.4" cy="342.3" r="2.05" fill="#d8384a"/>
<circle cx="392.1" cy="327.9" r="2.05" fill="#d8384a"/>
<circle cx="395.9" cy="327.2" r="2.05" fill="#d8384a"/>
<circle cx="399.9" cy="330.8" r="2.05" fill="#d8384a"/>
<circle cx="393.2" cy="321.7" r="2.05" fill="#d8384a"/>
<circle cx="396.6" cy="322.3" r="2.05" fill="#d8384a"/>
<circle cx="397.2" cy="320.1" r="2.05" fill="#d8384a"/>
<circle cx="399.9" cy="318.4" r="2.05" fill="#d8384a"/>
<circle cx="402.5" cy="317.9" r="2.05" fill="#d8384a"/>
<circle cx="417" cy="309" r="2.05" fill="#d8384a"/>
<polygon points="357.30,364.40 360.50,370.10 354.10,370.10" fill="#d8384a" stroke="#808080" stroke-width="1.15" stroke-linejoin="miter"/>
<path d="M423.05,284.50h2.5v2.25h2.25v2.5h-2.25v2.25h-2.5v-2.25h-2.25v-2.5h2.25z" fill="#d8384a" stroke="#808080" stroke-width="1.0" stroke-linejoin="miter"/>
<circle cx="408.5" cy="310.8" r="2.9" fill="#d8384a" stroke="#808080" stroke-width="1.15"/>
<rect x="384.70" y="331.90" width="5.2" height="5.2" fill="#d8384a" stroke="#808080" stroke-width="1.15"/>
<rect x="383.50" y="342.40" width="5.2" height="5.2" fill="#d8384a" stroke="#808080" stroke-width="1.15"/>
<circle cx="446.8" cy="340.3" r="2.05" fill="#1f4fae"/>
<circle cx="467" cy="329.6" r="2.05" fill="#1f4fae"/>
<circle cx="474.3" cy="330.8" r="2.05" fill="#1f4fae"/>
<circle cx="465.8" cy="340.5" r="2.05" fill="#1f4fae"/>
<circle cx="449.9" cy="355.7" r="2.05" fill="#1f4fae"/>
<circle cx="472.1" cy="355.4" r="2.05" fill="#1f4fae"/>
<circle cx="437.2" cy="370.3" r="2.05" fill="#1f4fae"/>
<circle cx="434" cy="377.1" r="2.05" fill="#1f4fae"/>
<circle cx="458.7" cy="371.6" r="2.05" fill="#1f4fae"/>
<circle cx="461.1" cy="370.4" r="2.05" fill="#1f4fae"/>
<circle cx="440" cy="378.6" r="2.05" fill="#1f4fae"/>
<circle cx="429.3" cy="376.1" r="2.05" fill="#54b1ef"/>
<circle cx="429.3" cy="389.1" r="2.05" fill="#54b1ef"/>
<circle cx="424.7" cy="397.2" r="2.05" fill="#54b1ef"/>
<circle cx="417.2" cy="404.0" r="2.05" fill="#54b1ef"/>
<circle cx="429.9" cy="403.8" r="2.05" fill="#54b1ef"/>
<circle cx="439.3" cy="396" r="2.05" fill="#54b1ef"/>
<circle cx="442.3" cy="395.7" r="2.05" fill="#54b1ef"/>
<circle cx="453.7" cy="376.8" r="2.05" fill="#54b1ef"/>
<circle cx="443" cy="371.6" r="2.05" fill="#54b1ef"/>
<circle cx="422" cy="411.2" r="2.05" fill="#54b1ef"/>
<rect x="435.60" y="380.00" width="5.2" height="5.2" fill="#1f4fae" stroke="#808080" stroke-width="1.15"/>
<rect x="443.10" y="374.20" width="5.2" height="5.2" fill="#1f4fae" stroke="#808080" stroke-width="1.15"/>
<polygon points="456.20,382.20 459.40,387.90 453.00,387.90" fill="#54b1ef" stroke="#808080" stroke-width="1.15" stroke-linejoin="miter"/>
<rect x="412.50" y="417.90" width="5.2" height="5.2" fill="#54b1ef" stroke="#808080" stroke-width="1.15"/>
<rect x="416.00" y="412.80" width="5.2" height="5.2" fill="#54b1ef" stroke="#808080" stroke-width="1.15"/>
<rect x="419.20" y="403.10" width="5.2" height="5.2" fill="#54b1ef" stroke="#808080" stroke-width="1.15"/>
<path d="M474.85,309.70h2.5v2.25h2.25v2.5h-2.25v2.25h-2.5v-2.25h-2.25v-2.5h2.25z" fill="#1f4fae" stroke="#808080" stroke-width="1.0" stroke-linejoin="miter"/>
<polygon points="478.50,318.60 481.70,324.30 475.30,324.30" fill="#1f4fae" stroke="#808080" stroke-width="1.15" stroke-linejoin="miter"/>
<circle cx="474.1" cy="342.8" r="3.0" fill="#54b1ef" stroke="#808080" stroke-width="1.15"/>
<circle cx="486.1" cy="355" r="3.0" fill="#1f4fae" stroke="#808080" stroke-width="1.15"/>
<rect x="312.0" y="281.4" width="182.5" height="146.0" fill="none" stroke="#2a2a2a" stroke-width="0.95"/>
<line x1="318.8" x2="318.8" y1="427.4" y2="425.2" stroke="#222" stroke-width="0.6"/>
<line x1="318.8" x2="318.8" y1="281.4" y2="283.59999999999997" stroke="#222" stroke-width="0.6"/>
<text x="318.8" y="435.1" font-family="Liberation Sans, sans-serif" font-size="6.3" text-anchor="middle" fill="#111">0.8</text>
<line x1="357.4" x2="357.4" y1="427.4" y2="425.2" stroke="#222" stroke-width="0.6"/>
<line x1="357.4" x2="357.4" y1="281.4" y2="283.59999999999997" stroke="#222" stroke-width="0.6"/>
<text x="357.4" y="435.1" font-family="Liberation Sans, sans-serif" font-size="6.3" text-anchor="middle" fill="#111">1.6</text>
<line x1="395.9" x2="395.9" y1="427.4" y2="425.2" stroke="#222" stroke-width="0.6"/>
<line x1="395.9" x2="395.9" y1="281.4" y2="283.59999999999997" stroke="#222" stroke-width="0.6"/>
<text x="395.9" y="435.1" font-family="Liberation Sans, sans-serif" font-size="6.3" text-anchor="middle" fill="#111">2.4</text>
<line x1="434.5" x2="434.5" y1="427.4" y2="425.2" stroke="#222" stroke-width="0.6"/>
<line x1="434.5" x2="434.5" y1="281.4" y2="283.59999999999997" stroke="#222" stroke-width="0.6"/>
<text x="434.5" y="435.1" font-family="Liberation Sans, sans-serif" font-size="6.3" text-anchor="middle" fill="#111">3.2</text>
<line x1="473.0" x2="473.0" y1="427.4" y2="425.2" stroke="#222" stroke-width="0.6"/>
<line x1="473.0" x2="473.0" y1="281.4" y2="283.59999999999997" stroke="#222" stroke-width="0.6"/>
<text x="473.0" y="435.1" font-family="Liberation Sans, sans-serif" font-size="6.3" text-anchor="middle" fill="#111">4.0</text>
<line x1="312.0" x2="314.2" y1="419.5" y2="419.5" stroke="#222" stroke-width="0.6"/>
<line x1="494.5" x2="492.3" y1="419.5" y2="419.5" stroke="#222" stroke-width="0.6"/>
<text x="310.2" y="422.4" font-family="Liberation Sans, sans-serif" font-size="6.3" text-anchor="end" fill="#111">0.4</text>
<line x1="312.0" x2="314.2" y1="385.2" y2="385.2" stroke="#222" stroke-width="0.6"/>
<line x1="494.5" x2="492.3" y1="385.2" y2="385.2" stroke="#222" stroke-width="0.6"/>
<text x="310.2" y="388.1" font-family="Liberation Sans, sans-serif" font-size="6.3" text-anchor="end" fill="#111">0.8</text>
<line x1="312.0" x2="314.2" y1="350.8" y2="350.8" stroke="#222" stroke-width="0.6"/>
<line x1="494.5" x2="492.3" y1="350.8" y2="350.8" stroke="#222" stroke-width="0.6"/>
<text x="310.2" y="353.7" font-family="Liberation Sans, sans-serif" font-size="6.3" text-anchor="end" fill="#111">1.2</text>
<line x1="312.0" x2="314.2" y1="316.5" y2="316.5" stroke="#222" stroke-width="0.6"/>
<line x1="494.5" x2="492.3" y1="316.5" y2="316.5" stroke="#222" stroke-width="0.6"/>
<text x="310.2" y="319.4" font-family="Liberation Sans, sans-serif" font-size="6.3" text-anchor="end" fill="#111">1.6</text>
<line x1="312.0" x2="314.2" y1="282.1" y2="282.1" stroke="#222" stroke-width="0.6"/>
<line x1="494.5" x2="492.3" y1="282.1" y2="282.1" stroke="#222" stroke-width="0.6"/>
<text x="310.2" y="285.0" font-family="Liberation Sans, sans-serif" font-size="6.3" text-anchor="end" fill="#111">2.0</text>
<text transform="translate(297.6,354.5) rotate(-90)" font-family="Liberation Sans, sans-serif" font-size="6.5" text-anchor="middle" fill="#111">RMSE (°C)</text>
<text x="403.2" y="443.8" font-family="Liberation Sans, sans-serif" font-size="6.5" text-anchor="middle" fill="#111">SD(<tspan font-style="italic">T</tspan><tspan font-size="4.6" dy="1.3">a</tspan><tspan dy="-1.3">) (°C)</tspan></text>
<path d="M323.6,291.8h2.4v2.3h2.3v2.4h-2.3v2.3h-2.4v-2.3h-2.3v-2.4h2.3z" fill="none" stroke="#808080" stroke-width="1.25"/>
<circle cx="324.8" cy="306.7" r="3.1" fill="none" stroke="#808080" stroke-width="1.4"/>
<rect x="321.8" y="315.2" width="6.0" height="6.0" fill="none" stroke="#808080" stroke-width="1.4"/>
<polygon points="324.8,326.2 328.40000000000003,332.6 321.2,332.6" fill="none" stroke="#808080" stroke-width="1.4"/>
<text x="332.2" y="297.90000000000003" font-family="Liberation Sans, sans-serif" font-size="7.4" fill="#111">Interface</text>
<text x="332.2" y="309.3" font-family="Liberation Sans, sans-serif" font-size="7.4" fill="#111">Inland</text>
<text x="332.2" y="320.8" font-family="Liberation Sans, sans-serif" font-size="7.4" fill="#111">Dense urban</text>
<text x="332.2" y="332.40000000000003" font-family="Liberation Sans, sans-serif" font-size="7.4" fill="#111">Mountain</text>
</g>

</svg>
</body></html>
